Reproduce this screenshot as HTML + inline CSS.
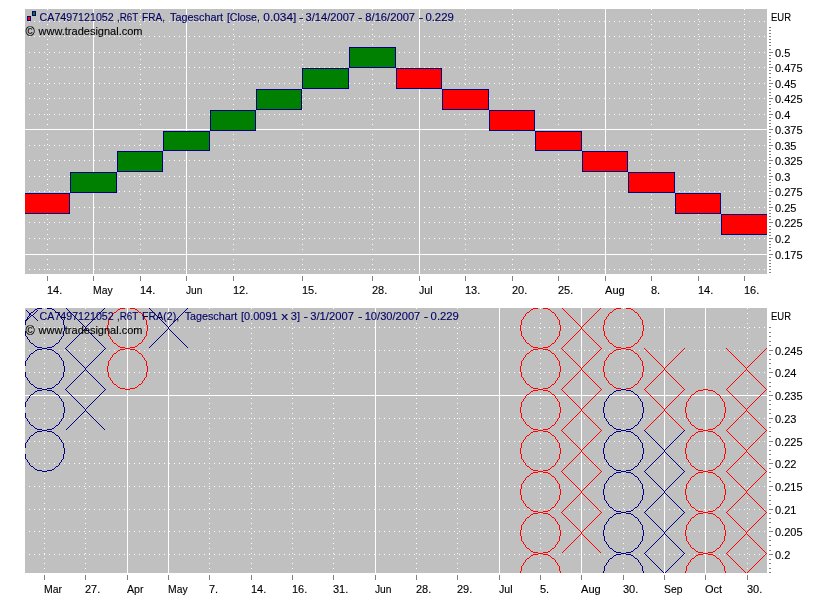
<!DOCTYPE html><html><head><meta charset="utf-8"><title>chart</title><style>
html,body{margin:0;padding:0;background:#fff;}svg{display:block;position:absolute;left:0;top:0;will-change:transform;}
text{font-family:"Liberation Sans",sans-serif;font-size:11px;stroke-width:0.12px;stroke:#000;}
</style></head><body>
<svg width="826" height="606" viewBox="0 0 826 606">
<rect width="826" height="606" fill="#fff"/>
<defs><clipPath id="c1"><rect x="25" y="9" width="742" height="265"/></clipPath>
<clipPath id="c2"><rect x="25" y="308" width="742" height="265"/></clipPath></defs>
<g shape-rendering="crispEdges">
<rect x="25" y="9" width="742" height="265" fill="#c0c0c0"/>
<line x1="29" y1="21.5" x2="767" y2="21.5" stroke="#fff" stroke-width="1" stroke-dasharray="1 4"/>
<line x1="29" y1="36.5" x2="767" y2="36.5" stroke="#fff" stroke-width="1" stroke-dasharray="1 4"/>
<line x1="29" y1="52.5" x2="767" y2="52.5" stroke="#fff" stroke-width="1" stroke-dasharray="1 4"/>
<line x1="29" y1="67.5" x2="767" y2="67.5" stroke="#fff" stroke-width="1" stroke-dasharray="1 4"/>
<line x1="29" y1="83.5" x2="767" y2="83.5" stroke="#fff" stroke-width="1" stroke-dasharray="1 4"/>
<line x1="29" y1="98.5" x2="767" y2="98.5" stroke="#fff" stroke-width="1" stroke-dasharray="1 4"/>
<line x1="29" y1="114.5" x2="767" y2="114.5" stroke="#fff" stroke-width="1" stroke-dasharray="1 4"/>
<rect x="25" y="129" width="742" height="1" fill="#fff"/>
<line x1="29" y1="145.5" x2="767" y2="145.5" stroke="#fff" stroke-width="1" stroke-dasharray="1 4"/>
<line x1="29" y1="160.5" x2="767" y2="160.5" stroke="#fff" stroke-width="1" stroke-dasharray="1 4"/>
<line x1="29" y1="176.5" x2="767" y2="176.5" stroke="#fff" stroke-width="1" stroke-dasharray="1 4"/>
<line x1="29" y1="191.5" x2="767" y2="191.5" stroke="#fff" stroke-width="1" stroke-dasharray="1 4"/>
<line x1="29" y1="207.5" x2="767" y2="207.5" stroke="#fff" stroke-width="1" stroke-dasharray="1 4"/>
<line x1="29" y1="222.5" x2="767" y2="222.5" stroke="#fff" stroke-width="1" stroke-dasharray="1 4"/>
<line x1="29" y1="238.5" x2="767" y2="238.5" stroke="#fff" stroke-width="1" stroke-dasharray="1 4"/>
<rect x="25" y="254" width="742" height="1" fill="#fff"/>
<line x1="29" y1="269.5" x2="767" y2="269.5" stroke="#fff" stroke-width="1" stroke-dasharray="1 4"/>
<line x1="47.5" y1="9" x2="47.5" y2="274" stroke="#fff" stroke-width="1" stroke-dasharray="1 4"/>
<line x1="140.5" y1="9" x2="140.5" y2="274" stroke="#fff" stroke-width="1" stroke-dasharray="1 4"/>
<line x1="233.5" y1="9" x2="233.5" y2="274" stroke="#fff" stroke-width="1" stroke-dasharray="1 4"/>
<line x1="302.5" y1="9" x2="302.5" y2="274" stroke="#fff" stroke-width="1" stroke-dasharray="1 4"/>
<line x1="372.5" y1="9" x2="372.5" y2="274" stroke="#fff" stroke-width="1" stroke-dasharray="1 4"/>
<line x1="465.5" y1="9" x2="465.5" y2="274" stroke="#fff" stroke-width="1" stroke-dasharray="1 4"/>
<line x1="512.5" y1="9" x2="512.5" y2="274" stroke="#fff" stroke-width="1" stroke-dasharray="1 4"/>
<line x1="558.5" y1="9" x2="558.5" y2="274" stroke="#fff" stroke-width="1" stroke-dasharray="1 4"/>
<line x1="651.5" y1="9" x2="651.5" y2="274" stroke="#fff" stroke-width="1" stroke-dasharray="1 4"/>
<line x1="698.5" y1="9" x2="698.5" y2="274" stroke="#fff" stroke-width="1" stroke-dasharray="1 4"/>
<line x1="744.5" y1="9" x2="744.5" y2="274" stroke="#fff" stroke-width="1" stroke-dasharray="1 4"/>
<rect x="93" y="9" width="1" height="265" fill="#fff"/>
<rect x="186" y="9" width="1" height="265" fill="#fff"/>
<rect x="419" y="9" width="1" height="265" fill="#fff"/>
<rect x="605" y="9" width="1" height="265" fill="#fff"/>
<g clip-path="url(#c1)">
<rect x="23.5" y="193.5" width="46" height="20" fill="#ff0000" stroke="#000080" stroke-width="1"/>
<rect x="70.5" y="172.5" width="46" height="20" fill="#008000" stroke="#000080" stroke-width="1"/>
<rect x="117.5" y="151.5" width="45" height="20" fill="#008000" stroke="#000080" stroke-width="1"/>
<rect x="163.5" y="131.5" width="46" height="19" fill="#008000" stroke="#000080" stroke-width="1"/>
<rect x="210.5" y="110.5" width="45" height="20" fill="#008000" stroke="#000080" stroke-width="1"/>
<rect x="256.5" y="89.5" width="45" height="20" fill="#008000" stroke="#000080" stroke-width="1"/>
<rect x="302.5" y="68.5" width="46" height="20" fill="#008000" stroke="#000080" stroke-width="1"/>
<rect x="349.5" y="47.5" width="46" height="20" fill="#008000" stroke="#000080" stroke-width="1"/>
<rect x="396.5" y="68.5" width="45" height="20" fill="#ff0000" stroke="#000080" stroke-width="1"/>
<rect x="442.5" y="89.5" width="46" height="20" fill="#ff0000" stroke="#000080" stroke-width="1"/>
<rect x="489.5" y="110.5" width="45" height="20" fill="#ff0000" stroke="#000080" stroke-width="1"/>
<rect x="535.5" y="131.5" width="46" height="19" fill="#ff0000" stroke="#000080" stroke-width="1"/>
<rect x="582.5" y="151.5" width="45" height="20" fill="#ff0000" stroke="#000080" stroke-width="1"/>
<rect x="628.5" y="172.5" width="46" height="20" fill="#ff0000" stroke="#000080" stroke-width="1"/>
<rect x="675.5" y="193.5" width="45" height="20" fill="#ff0000" stroke="#000080" stroke-width="1"/>
<rect x="721.5" y="214.5" width="47" height="20" fill="#ff0000" stroke="#000080" stroke-width="1"/>
</g>
<rect x="47" y="276" width="1" height="5" fill="#808080"/>
<rect x="93" y="276" width="1" height="5" fill="#808080"/>
<rect x="140" y="276" width="1" height="5" fill="#808080"/>
<rect x="186" y="276" width="1" height="5" fill="#808080"/>
<rect x="233" y="276" width="1" height="5" fill="#808080"/>
<rect x="302" y="276" width="1" height="5" fill="#808080"/>
<rect x="372" y="276" width="1" height="5" fill="#808080"/>
<rect x="419" y="276" width="1" height="5" fill="#808080"/>
<rect x="465" y="276" width="1" height="5" fill="#808080"/>
<rect x="512" y="276" width="1" height="5" fill="#808080"/>
<rect x="558" y="276" width="1" height="5" fill="#808080"/>
<rect x="605" y="276" width="1" height="5" fill="#808080"/>
<rect x="651" y="276" width="1" height="5" fill="#808080"/>
<rect x="698" y="276" width="1" height="5" fill="#808080"/>
<rect x="744" y="276" width="1" height="5" fill="#808080"/>
<rect x="769" y="27" width="2" height="1" fill="#808080"/>
<rect x="769" y="30" width="2" height="1" fill="#808080"/>
<rect x="769" y="33" width="2" height="1" fill="#808080"/>
<rect x="769" y="36" width="2" height="1" fill="#808080"/>
<rect x="769" y="39" width="2" height="1" fill="#808080"/>
<rect x="769" y="42" width="2" height="1" fill="#808080"/>
<rect x="769" y="45" width="2" height="1" fill="#808080"/>
<rect x="769" y="49" width="2" height="1" fill="#808080"/>
<rect x="769" y="52" width="2" height="1" fill="#808080"/>
<rect x="769" y="55" width="2" height="1" fill="#808080"/>
<rect x="769" y="58" width="2" height="1" fill="#808080"/>
<rect x="769" y="61" width="2" height="1" fill="#808080"/>
<rect x="769" y="64" width="2" height="1" fill="#808080"/>
<rect x="769" y="67" width="2" height="1" fill="#808080"/>
<rect x="769" y="70" width="2" height="1" fill="#808080"/>
<rect x="769" y="73" width="2" height="1" fill="#808080"/>
<rect x="769" y="77" width="2" height="1" fill="#808080"/>
<rect x="769" y="80" width="2" height="1" fill="#808080"/>
<rect x="769" y="83" width="2" height="1" fill="#808080"/>
<rect x="769" y="86" width="2" height="1" fill="#808080"/>
<rect x="769" y="89" width="2" height="1" fill="#808080"/>
<rect x="769" y="92" width="2" height="1" fill="#808080"/>
<rect x="769" y="95" width="2" height="1" fill="#808080"/>
<rect x="769" y="98" width="2" height="1" fill="#808080"/>
<rect x="769" y="101" width="2" height="1" fill="#808080"/>
<rect x="769" y="104" width="2" height="1" fill="#808080"/>
<rect x="769" y="108" width="2" height="1" fill="#808080"/>
<rect x="769" y="111" width="2" height="1" fill="#808080"/>
<rect x="769" y="114" width="2" height="1" fill="#808080"/>
<rect x="769" y="117" width="2" height="1" fill="#808080"/>
<rect x="769" y="120" width="2" height="1" fill="#808080"/>
<rect x="769" y="123" width="2" height="1" fill="#808080"/>
<rect x="769" y="126" width="2" height="1" fill="#808080"/>
<rect x="769" y="129" width="2" height="1" fill="#808080"/>
<rect x="769" y="132" width="2" height="1" fill="#808080"/>
<rect x="769" y="136" width="2" height="1" fill="#808080"/>
<rect x="769" y="139" width="2" height="1" fill="#808080"/>
<rect x="769" y="142" width="2" height="1" fill="#808080"/>
<rect x="769" y="145" width="2" height="1" fill="#808080"/>
<rect x="769" y="148" width="2" height="1" fill="#808080"/>
<rect x="769" y="151" width="2" height="1" fill="#808080"/>
<rect x="769" y="154" width="2" height="1" fill="#808080"/>
<rect x="769" y="157" width="2" height="1" fill="#808080"/>
<rect x="769" y="160" width="2" height="1" fill="#808080"/>
<rect x="769" y="163" width="2" height="1" fill="#808080"/>
<rect x="769" y="167" width="2" height="1" fill="#808080"/>
<rect x="769" y="170" width="2" height="1" fill="#808080"/>
<rect x="769" y="173" width="2" height="1" fill="#808080"/>
<rect x="769" y="176" width="2" height="1" fill="#808080"/>
<rect x="769" y="179" width="2" height="1" fill="#808080"/>
<rect x="769" y="182" width="2" height="1" fill="#808080"/>
<rect x="769" y="185" width="2" height="1" fill="#808080"/>
<rect x="769" y="188" width="2" height="1" fill="#808080"/>
<rect x="769" y="191" width="2" height="1" fill="#808080"/>
<rect x="769" y="195" width="2" height="1" fill="#808080"/>
<rect x="769" y="198" width="2" height="1" fill="#808080"/>
<rect x="769" y="201" width="2" height="1" fill="#808080"/>
<rect x="769" y="204" width="2" height="1" fill="#808080"/>
<rect x="769" y="207" width="2" height="1" fill="#808080"/>
<rect x="769" y="210" width="2" height="1" fill="#808080"/>
<rect x="769" y="213" width="2" height="1" fill="#808080"/>
<rect x="769" y="216" width="2" height="1" fill="#808080"/>
<rect x="769" y="219" width="2" height="1" fill="#808080"/>
<rect x="769" y="222" width="2" height="1" fill="#808080"/>
<rect x="769" y="226" width="2" height="1" fill="#808080"/>
<rect x="769" y="229" width="2" height="1" fill="#808080"/>
<rect x="769" y="232" width="2" height="1" fill="#808080"/>
<rect x="769" y="235" width="2" height="1" fill="#808080"/>
<rect x="769" y="238" width="2" height="1" fill="#808080"/>
<rect x="769" y="241" width="2" height="1" fill="#808080"/>
<rect x="769" y="244" width="2" height="1" fill="#808080"/>
<rect x="769" y="247" width="2" height="1" fill="#808080"/>
<rect x="769" y="250" width="2" height="1" fill="#808080"/>
<rect x="769" y="254" width="2" height="1" fill="#808080"/>
<rect x="769" y="257" width="2" height="1" fill="#808080"/>
<rect x="769" y="260" width="2" height="1" fill="#808080"/>
<rect x="769" y="263" width="2" height="1" fill="#808080"/>
<rect x="769" y="266" width="2" height="1" fill="#808080"/>
<rect x="769" y="269" width="2" height="1" fill="#808080"/>
<rect x="769" y="272" width="2" height="1" fill="#808080"/>
<rect x="769" y="52" width="4" height="1" fill="#808080"/>
<rect x="769" y="67" width="4" height="1" fill="#808080"/>
<rect x="769" y="83" width="4" height="1" fill="#808080"/>
<rect x="769" y="98" width="4" height="1" fill="#808080"/>
<rect x="769" y="114" width="4" height="1" fill="#808080"/>
<rect x="769" y="129" width="4" height="1" fill="#808080"/>
<rect x="769" y="145" width="4" height="1" fill="#808080"/>
<rect x="769" y="160" width="4" height="1" fill="#808080"/>
<rect x="769" y="176" width="4" height="1" fill="#808080"/>
<rect x="769" y="191" width="4" height="1" fill="#808080"/>
<rect x="769" y="207" width="4" height="1" fill="#808080"/>
<rect x="769" y="222" width="4" height="1" fill="#808080"/>
<rect x="769" y="238" width="4" height="1" fill="#808080"/>
<rect x="769" y="254" width="4" height="1" fill="#808080"/>
<rect x="32" y="11" width="4" height="5" fill="#000080"/>
<rect x="33" y="12" width="2" height="3" fill="#008000"/>
<rect x="27" y="16" width="4" height="5" fill="#000080"/>
<rect x="28" y="17" width="2" height="3" fill="#ff0000"/>
</g>
<text x="47" y="294">14.</text>
<text x="93" y="294" textLength="19.6" lengthAdjust="spacingAndGlyphs">May</text>
<text x="140" y="294">14.</text>
<text x="186" y="294" textLength="16.5" lengthAdjust="spacingAndGlyphs">Jun</text>
<text x="233" y="294">12.</text>
<text x="302" y="294">15.</text>
<text x="372" y="294">28.</text>
<text x="419" y="294" textLength="13.5" lengthAdjust="spacingAndGlyphs">Jul</text>
<text x="465" y="294">13.</text>
<text x="512" y="294">20.</text>
<text x="558" y="294">25.</text>
<text x="605" y="294" textLength="19.7" lengthAdjust="spacingAndGlyphs">Aug</text>
<text x="651" y="294">8.</text>
<text x="698" y="294">14.</text>
<text x="744" y="294">16.</text>
<text x="775" y="57">0.5</text>
<text x="775" y="72">0.475</text>
<text x="775" y="88">0.45</text>
<text x="775" y="103">0.425</text>
<text x="775" y="119">0.4</text>
<text x="775" y="134">0.375</text>
<text x="775" y="150">0.35</text>
<text x="775" y="165">0.325</text>
<text x="775" y="181">0.3</text>
<text x="775" y="196">0.275</text>
<text x="775" y="212">0.25</text>
<text x="775" y="227">0.225</text>
<text x="775" y="243">0.2</text>
<text x="775" y="259">0.175</text>
<text x="771" y="21" textLength="20" lengthAdjust="spacingAndGlyphs">EUR</text>
<text x="39.6" y="21" textLength="74.1" lengthAdjust="spacingAndGlyphs" fill="#000080" stroke="#000080">CA7497121052</text>
<text x="117.0" y="21" textLength="21.3" lengthAdjust="spacingAndGlyphs" fill="#000080" stroke="#000080">,R6T</text>
<text x="142.1" y="21" textLength="23" lengthAdjust="spacingAndGlyphs" fill="#000080" stroke="#000080">FRA,</text>
<text x="170.1" y="21" textLength="53" lengthAdjust="spacingAndGlyphs" fill="#000080" stroke="#000080">Tageschart</text>
<text x="226.9" y="21" textLength="33" lengthAdjust="spacingAndGlyphs" fill="#000080" stroke="#000080">[Close,</text>
<text x="263.3" y="21" textLength="33" lengthAdjust="spacingAndGlyphs" fill="#000080" stroke="#000080">0.034]</text>
<text x="298.9" y="21" textLength="4.5" lengthAdjust="spacingAndGlyphs" fill="#000080" stroke="#000080">-</text>
<text x="305.6" y="21" textLength="49.4" lengthAdjust="spacingAndGlyphs" fill="#000080" stroke="#000080">3/14/2007</text>
<text x="358.1" y="21" textLength="4.5" lengthAdjust="spacingAndGlyphs" fill="#000080" stroke="#000080">-</text>
<text x="365.3" y="21" textLength="49.8" lengthAdjust="spacingAndGlyphs" fill="#000080" stroke="#000080">8/16/2007</text>
<text x="418.8" y="21" textLength="4.5" lengthAdjust="spacingAndGlyphs" fill="#000080" stroke="#000080">-</text>
<text x="425.4" y="21" textLength="28.4" lengthAdjust="spacingAndGlyphs" fill="#000080" stroke="#000080">0.229</text>
<text x="25.6" y="36" style="font-size:12.6px">©</text>
<text x="38.5" y="35" textLength="104" lengthAdjust="spacingAndGlyphs">www.tradesignal.com</text>
<g shape-rendering="crispEdges">
<rect x="25" y="308" width="742" height="265" fill="#c0c0c0"/>
<line x1="29" y1="327.5" x2="767" y2="327.5" stroke="#fff" stroke-width="1" stroke-dasharray="1 4"/>
<line x1="29" y1="350.5" x2="767" y2="350.5" stroke="#fff" stroke-width="1" stroke-dasharray="1 4"/>
<line x1="29" y1="372.5" x2="767" y2="372.5" stroke="#fff" stroke-width="1" stroke-dasharray="1 4"/>
<rect x="25" y="395" width="742" height="1" fill="#fff"/>
<line x1="29" y1="418.5" x2="767" y2="418.5" stroke="#fff" stroke-width="1" stroke-dasharray="1 4"/>
<line x1="29" y1="441.5" x2="767" y2="441.5" stroke="#fff" stroke-width="1" stroke-dasharray="1 4"/>
<line x1="29" y1="463.5" x2="767" y2="463.5" stroke="#fff" stroke-width="1" stroke-dasharray="1 4"/>
<line x1="29" y1="486.5" x2="767" y2="486.5" stroke="#fff" stroke-width="1" stroke-dasharray="1 4"/>
<line x1="29" y1="509.5" x2="767" y2="509.5" stroke="#fff" stroke-width="1" stroke-dasharray="1 4"/>
<line x1="29" y1="531.5" x2="767" y2="531.5" stroke="#fff" stroke-width="1" stroke-dasharray="1 4"/>
<line x1="29" y1="554.5" x2="767" y2="554.5" stroke="#fff" stroke-width="1" stroke-dasharray="1 4"/>
<line x1="44.5" y1="308" x2="44.5" y2="573" stroke="#fff" stroke-width="1" stroke-dasharray="1 4"/>
<line x1="85.5" y1="308" x2="85.5" y2="573" stroke="#fff" stroke-width="1" stroke-dasharray="1 4"/>
<line x1="209.5" y1="308" x2="209.5" y2="573" stroke="#fff" stroke-width="1" stroke-dasharray="1 4"/>
<line x1="251.5" y1="308" x2="251.5" y2="573" stroke="#fff" stroke-width="1" stroke-dasharray="1 4"/>
<line x1="292.5" y1="308" x2="292.5" y2="573" stroke="#fff" stroke-width="1" stroke-dasharray="1 4"/>
<line x1="333.5" y1="308" x2="333.5" y2="573" stroke="#fff" stroke-width="1" stroke-dasharray="1 4"/>
<line x1="416.5" y1="308" x2="416.5" y2="573" stroke="#fff" stroke-width="1" stroke-dasharray="1 4"/>
<line x1="457.5" y1="308" x2="457.5" y2="573" stroke="#fff" stroke-width="1" stroke-dasharray="1 4"/>
<line x1="540.5" y1="308" x2="540.5" y2="573" stroke="#fff" stroke-width="1" stroke-dasharray="1 4"/>
<line x1="623.5" y1="308" x2="623.5" y2="573" stroke="#fff" stroke-width="1" stroke-dasharray="1 4"/>
<line x1="747.5" y1="308" x2="747.5" y2="573" stroke="#fff" stroke-width="1" stroke-dasharray="1 4"/>
<rect x="127" y="308" width="1" height="265" fill="#fff"/>
<rect x="168" y="308" width="1" height="265" fill="#fff"/>
<rect x="375" y="308" width="1" height="265" fill="#fff"/>
<rect x="499" y="308" width="1" height="265" fill="#fff"/>
<rect x="581" y="308" width="1" height="265" fill="#fff"/>
<rect x="664" y="308" width="1" height="265" fill="#fff"/>
<rect x="705" y="308" width="1" height="265" fill="#fff"/>
<g clip-path="url(#c2)">
<path fill="#ff0000" d="M120 308h5v1h-5zM130 308h5v1h-5zM533 308h5v1h-5zM543 308h5v1h-5zM562 308h1v1h-1zM600 308h1v1h-1zM616 308h5v1h-5zM626 308h5v1h-5zM118 309h2v1h-2zM135 309h2v1h-2zM531 309h2v1h-2zM548 309h2v1h-2zM563 309h1v1h-1zM599 309h1v1h-1zM614 309h2v1h-2zM631 309h2v1h-2zM117 310h1v1h-1zM137 310h1v1h-1zM530 310h1v1h-1zM550 310h1v1h-1zM564 310h1v1h-1zM598 310h1v1h-1zM613 310h1v1h-1zM633 310h1v1h-1zM116 311h1v1h-1zM138 311h1v1h-1zM529 311h1v1h-1zM551 311h1v1h-1zM565 311h1v1h-1zM597 311h1v1h-1zM612 311h1v1h-1zM634 311h1v1h-1zM114 312h2v1h-2zM139 312h2v1h-2zM527 312h2v1h-2zM552 312h2v1h-2zM566 312h1v1h-1zM596 312h1v1h-1zM610 312h2v1h-2zM635 312h2v1h-2zM113 313h1v1h-1zM141 313h1v1h-1zM526 313h1v1h-1zM554 313h1v1h-1zM567 313h1v1h-1zM595 313h1v1h-1zM609 313h1v1h-1zM637 313h1v1h-1zM112 314h1v1h-1zM142 314h1v1h-1zM525 314h1v1h-1zM555 314h1v1h-1zM568 314h1v1h-1zM594 314h1v1h-1zM608 314h1v1h-1zM638 314h1v1h-1zM112 315h1v1h-1zM142 315h1v1h-1zM525 315h1v1h-1zM555 315h1v1h-1zM569 315h1v1h-1zM593 315h1v1h-1zM608 315h1v1h-1zM638 315h1v1h-1zM111 316h1v1h-1zM143 316h1v1h-1zM524 316h1v1h-1zM556 316h1v1h-1zM570 316h1v1h-1zM592 316h1v1h-1zM607 316h1v1h-1zM639 316h1v1h-1zM110 317h1v1h-1zM144 317h1v1h-1zM523 317h1v1h-1zM557 317h1v1h-1zM571 317h1v1h-1zM591 317h1v1h-1zM606 317h1v1h-1zM640 317h1v1h-1zM110 318h1v1h-1zM144 318h1v1h-1zM523 318h1v1h-1zM557 318h1v1h-1zM572 318h1v1h-1zM590 318h1v1h-1zM606 318h1v1h-1zM640 318h1v1h-1zM109 319h1v1h-1zM145 319h1v1h-1zM522 319h1v1h-1zM558 319h1v1h-1zM573 319h1v1h-1zM589 319h1v1h-1zM605 319h1v1h-1zM641 319h1v1h-1zM108 320h1v1h-1zM146 320h1v1h-1zM521 320h1v1h-1zM559 320h1v1h-1zM574 320h1v1h-1zM588 320h1v1h-1zM604 320h1v1h-1zM642 320h1v1h-1zM108 321h1v1h-1zM146 321h1v1h-1zM521 321h1v1h-1zM559 321h1v1h-1zM575 321h1v1h-1zM587 321h1v1h-1zM604 321h1v1h-1zM642 321h1v1h-1zM108 322h1v1h-1zM146 322h1v1h-1zM521 322h1v1h-1zM559 322h1v1h-1zM576 322h1v1h-1zM586 322h1v1h-1zM604 322h1v1h-1zM642 322h1v1h-1zM108 323h1v1h-1zM146 323h1v1h-1zM521 323h1v1h-1zM559 323h1v1h-1zM577 323h1v1h-1zM585 323h1v1h-1zM604 323h1v1h-1zM642 323h1v1h-1zM108 324h1v1h-1zM146 324h1v1h-1zM521 324h1v1h-1zM559 324h1v1h-1zM578 324h1v1h-1zM584 324h1v1h-1zM604 324h1v1h-1zM642 324h1v1h-1zM107 325h1v1h-1zM147 325h1v1h-1zM520 325h1v1h-1zM560 325h1v1h-1zM579 325h1v1h-1zM583 325h1v1h-1zM603 325h1v1h-1zM643 325h1v1h-1zM107 326h1v1h-1zM147 326h1v1h-1zM520 326h1v1h-1zM560 326h1v1h-1zM580 326h1v1h-1zM582 326h1v1h-1zM603 326h1v1h-1zM643 326h1v1h-1zM107 327h1v1h-1zM147 327h1v1h-1zM520 327h1v1h-1zM560 327h1v1h-1zM581 327h1v1h-1zM603 327h1v1h-1zM643 327h1v1h-1zM107 328h1v1h-1zM147 328h1v1h-1zM520 328h1v1h-1zM560 328h1v1h-1zM581 328h1v1h-1zM603 328h1v1h-1zM643 328h1v1h-1zM107 329h1v1h-1zM147 329h1v1h-1zM520 329h1v1h-1zM560 329h1v1h-1zM580 329h1v1h-1zM582 329h1v1h-1zM603 329h1v1h-1zM643 329h1v1h-1zM107 330h1v1h-1zM147 330h1v1h-1zM520 330h1v1h-1zM560 330h1v1h-1zM579 330h1v1h-1zM583 330h1v1h-1zM603 330h1v1h-1zM643 330h1v1h-1zM108 331h1v1h-1zM146 331h1v1h-1zM521 331h1v1h-1zM559 331h1v1h-1zM578 331h1v1h-1zM584 331h1v1h-1zM604 331h1v1h-1zM642 331h1v1h-1zM108 332h1v1h-1zM146 332h1v1h-1zM521 332h1v1h-1zM559 332h1v1h-1zM577 332h1v1h-1zM585 332h1v1h-1zM604 332h1v1h-1zM642 332h1v1h-1zM108 333h1v1h-1zM146 333h1v1h-1zM521 333h1v1h-1zM559 333h1v1h-1zM576 333h1v1h-1zM586 333h1v1h-1zM604 333h1v1h-1zM642 333h1v1h-1zM108 334h1v1h-1zM146 334h1v1h-1zM521 334h1v1h-1zM559 334h1v1h-1zM575 334h1v1h-1zM587 334h1v1h-1zM604 334h1v1h-1zM642 334h1v1h-1zM108 335h1v1h-1zM146 335h1v1h-1zM521 335h1v1h-1zM559 335h1v1h-1zM574 335h1v1h-1zM588 335h1v1h-1zM604 335h1v1h-1zM642 335h1v1h-1zM109 336h1v1h-1zM145 336h1v1h-1zM522 336h1v1h-1zM558 336h1v1h-1zM573 336h1v1h-1zM589 336h1v1h-1zM605 336h1v1h-1zM641 336h1v1h-1zM110 337h1v1h-1zM144 337h1v1h-1zM523 337h1v1h-1zM557 337h1v1h-1zM572 337h1v1h-1zM590 337h1v1h-1zM606 337h1v1h-1zM640 337h1v1h-1zM110 338h1v1h-1zM144 338h1v1h-1zM523 338h1v1h-1zM557 338h1v1h-1zM571 338h1v1h-1zM591 338h1v1h-1zM606 338h1v1h-1zM640 338h1v1h-1zM111 339h1v1h-1zM143 339h1v1h-1zM524 339h1v1h-1zM556 339h1v1h-1zM570 339h1v1h-1zM592 339h1v1h-1zM607 339h1v1h-1zM639 339h1v1h-1zM112 340h1v1h-1zM142 340h1v1h-1zM525 340h1v1h-1zM555 340h1v1h-1zM569 340h1v1h-1zM593 340h1v1h-1zM608 340h1v1h-1zM638 340h1v1h-1zM112 341h1v1h-1zM142 341h1v1h-1zM525 341h1v1h-1zM555 341h1v1h-1zM568 341h1v1h-1zM594 341h1v1h-1zM608 341h1v1h-1zM638 341h1v1h-1zM113 342h1v1h-1zM141 342h1v1h-1zM526 342h1v1h-1zM554 342h1v1h-1zM567 342h1v1h-1zM595 342h1v1h-1zM609 342h1v1h-1zM637 342h1v1h-1zM114 343h2v1h-2zM139 343h2v1h-2zM527 343h2v1h-2zM552 343h2v1h-2zM566 343h1v1h-1zM596 343h1v1h-1zM610 343h2v1h-2zM635 343h2v1h-2zM116 344h1v1h-1zM138 344h1v1h-1zM529 344h1v1h-1zM551 344h1v1h-1zM565 344h1v1h-1zM597 344h1v1h-1zM612 344h1v1h-1zM634 344h1v1h-1zM117 345h1v1h-1zM137 345h1v1h-1zM530 345h1v1h-1zM550 345h1v1h-1zM564 345h1v1h-1zM598 345h1v1h-1zM613 345h1v1h-1zM633 345h1v1h-1zM118 346h2v1h-2zM135 346h2v1h-2zM531 346h2v1h-2zM548 346h2v1h-2zM563 346h1v1h-1zM599 346h1v1h-1zM614 346h2v1h-2zM631 346h2v1h-2zM120 347h5v1h-5zM130 347h5v1h-5zM533 347h5v1h-5zM543 347h5v1h-5zM562 347h1v1h-1zM600 347h1v1h-1zM616 347h5v1h-5zM626 347h5v1h-5zM125 348h5v1h-5zM538 348h5v1h-5zM561 348h1v1h-1zM601 348h1v1h-1zM621 348h5v1h-5zM644 348h1v1h-1zM684 348h1v1h-1zM726 348h1v1h-1zM766 348h1v1h-1zM120 349h5v1h-5zM130 349h5v1h-5zM533 349h5v1h-5zM543 349h5v1h-5zM562 349h1v1h-1zM600 349h1v1h-1zM616 349h5v1h-5zM626 349h5v1h-5zM645 349h1v1h-1zM683 349h1v1h-1zM727 349h1v1h-1zM765 349h1v1h-1zM118 350h2v1h-2zM135 350h2v1h-2zM531 350h2v1h-2zM548 350h2v1h-2zM563 350h1v1h-1zM599 350h1v1h-1zM614 350h2v1h-2zM631 350h2v1h-2zM646 350h1v1h-1zM682 350h1v1h-1zM728 350h1v1h-1zM764 350h1v1h-1zM117 351h1v1h-1zM137 351h1v1h-1zM530 351h1v1h-1zM550 351h1v1h-1zM564 351h1v1h-1zM598 351h1v1h-1zM613 351h1v1h-1zM633 351h1v1h-1zM647 351h1v1h-1zM681 351h1v1h-1zM729 351h1v1h-1zM763 351h1v1h-1zM116 352h1v1h-1zM138 352h1v1h-1zM529 352h1v1h-1zM551 352h1v1h-1zM565 352h1v1h-1zM597 352h1v1h-1zM612 352h1v1h-1zM634 352h1v1h-1zM648 352h1v1h-1zM680 352h1v1h-1zM730 352h1v1h-1zM762 352h1v1h-1zM114 353h2v1h-2zM139 353h2v1h-2zM527 353h2v1h-2zM552 353h2v1h-2zM566 353h1v1h-1zM596 353h1v1h-1zM610 353h2v1h-2zM635 353h2v1h-2zM649 353h1v1h-1zM679 353h1v1h-1zM731 353h1v1h-1zM761 353h1v1h-1zM113 354h1v1h-1zM141 354h1v1h-1zM526 354h1v1h-1zM554 354h1v1h-1zM567 354h1v1h-1zM595 354h1v1h-1zM609 354h1v1h-1zM637 354h1v1h-1zM650 354h1v1h-1zM678 354h1v1h-1zM732 354h1v1h-1zM760 354h1v1h-1zM112 355h1v1h-1zM142 355h1v1h-1zM525 355h1v1h-1zM555 355h1v1h-1zM568 355h1v1h-1zM594 355h1v1h-1zM608 355h1v1h-1zM638 355h1v1h-1zM651 355h1v1h-1zM677 355h1v1h-1zM733 355h1v1h-1zM759 355h1v1h-1zM112 356h1v1h-1zM142 356h1v1h-1zM525 356h1v1h-1zM555 356h1v1h-1zM569 356h1v1h-1zM593 356h1v1h-1zM608 356h1v1h-1zM638 356h1v1h-1zM652 356h1v1h-1zM676 356h1v1h-1zM734 356h1v1h-1zM758 356h1v1h-1zM111 357h1v1h-1zM143 357h1v1h-1zM524 357h1v1h-1zM556 357h1v1h-1zM570 357h1v1h-1zM592 357h1v1h-1zM607 357h1v1h-1zM639 357h1v1h-1zM653 357h1v1h-1zM675 357h1v1h-1zM735 357h1v1h-1zM757 357h1v1h-1zM110 358h1v1h-1zM144 358h1v1h-1zM523 358h1v1h-1zM557 358h1v1h-1zM571 358h1v1h-1zM591 358h1v1h-1zM606 358h1v1h-1zM640 358h1v1h-1zM654 358h1v1h-1zM674 358h1v1h-1zM736 358h1v1h-1zM756 358h1v1h-1zM110 359h1v1h-1zM144 359h1v1h-1zM523 359h1v1h-1zM557 359h1v1h-1zM572 359h1v1h-1zM590 359h1v1h-1zM606 359h1v1h-1zM640 359h1v1h-1zM655 359h1v1h-1zM673 359h1v1h-1zM737 359h1v1h-1zM755 359h1v1h-1zM109 360h1v1h-1zM145 360h1v1h-1zM522 360h1v1h-1zM558 360h1v1h-1zM573 360h1v1h-1zM589 360h1v1h-1zM605 360h1v1h-1zM641 360h1v1h-1zM656 360h1v1h-1zM672 360h1v1h-1zM738 360h1v1h-1zM754 360h1v1h-1zM108 361h1v1h-1zM146 361h1v1h-1zM521 361h1v1h-1zM559 361h1v1h-1zM574 361h1v1h-1zM588 361h1v1h-1zM604 361h1v1h-1zM642 361h1v1h-1zM657 361h1v1h-1zM671 361h1v1h-1zM739 361h1v1h-1zM753 361h1v1h-1zM108 362h1v1h-1zM146 362h1v1h-1zM521 362h1v1h-1zM559 362h1v1h-1zM575 362h1v1h-1zM587 362h1v1h-1zM604 362h1v1h-1zM642 362h1v1h-1zM658 362h1v1h-1zM670 362h1v1h-1zM740 362h1v1h-1zM752 362h1v1h-1zM108 363h1v1h-1zM146 363h1v1h-1zM521 363h1v1h-1zM559 363h1v1h-1zM576 363h1v1h-1zM586 363h1v1h-1zM604 363h1v1h-1zM642 363h1v1h-1zM659 363h1v1h-1zM669 363h1v1h-1zM741 363h1v1h-1zM751 363h1v1h-1zM108 364h1v1h-1zM146 364h1v1h-1zM521 364h1v1h-1zM559 364h1v1h-1zM577 364h1v1h-1zM585 364h1v1h-1zM604 364h1v1h-1zM642 364h1v1h-1zM660 364h1v1h-1zM668 364h1v1h-1zM742 364h1v1h-1zM750 364h1v1h-1zM108 365h1v1h-1zM146 365h1v1h-1zM521 365h1v1h-1zM559 365h1v1h-1zM578 365h1v1h-1zM584 365h1v1h-1zM604 365h1v1h-1zM642 365h1v1h-1zM661 365h1v1h-1zM667 365h1v1h-1zM743 365h1v1h-1zM749 365h1v1h-1zM107 366h1v1h-1zM147 366h1v1h-1zM520 366h1v1h-1zM560 366h1v1h-1zM579 366h1v1h-1zM583 366h1v1h-1zM603 366h1v1h-1zM643 366h1v1h-1zM662 366h1v1h-1zM666 366h1v1h-1zM744 366h1v1h-1zM748 366h1v1h-1zM107 367h1v1h-1zM147 367h1v1h-1zM520 367h1v1h-1zM560 367h1v1h-1zM580 367h1v1h-1zM582 367h1v1h-1zM603 367h1v1h-1zM643 367h1v1h-1zM663 367h1v1h-1zM665 367h1v1h-1zM745 367h1v1h-1zM747 367h1v1h-1zM107 368h1v1h-1zM147 368h1v1h-1zM520 368h1v1h-1zM560 368h1v1h-1zM581 368h1v1h-1zM603 368h1v1h-1zM643 368h1v1h-1zM664 368h1v1h-1zM746 368h1v1h-1zM107 369h1v1h-1zM147 369h1v1h-1zM520 369h1v1h-1zM560 369h1v1h-1zM581 369h1v1h-1zM603 369h1v1h-1zM643 369h1v1h-1zM664 369h1v1h-1zM746 369h1v1h-1zM107 370h1v1h-1zM147 370h1v1h-1zM520 370h1v1h-1zM560 370h1v1h-1zM580 370h1v1h-1zM582 370h1v1h-1zM603 370h1v1h-1zM643 370h1v1h-1zM663 370h1v1h-1zM665 370h1v1h-1zM745 370h1v1h-1zM747 370h1v1h-1zM107 371h1v1h-1zM147 371h1v1h-1zM520 371h1v1h-1zM560 371h1v1h-1zM579 371h1v1h-1zM583 371h1v1h-1zM603 371h1v1h-1zM643 371h1v1h-1zM662 371h1v1h-1zM666 371h1v1h-1zM744 371h1v1h-1zM748 371h1v1h-1zM108 372h1v1h-1zM146 372h1v1h-1zM521 372h1v1h-1zM559 372h1v1h-1zM578 372h1v1h-1zM584 372h1v1h-1zM604 372h1v1h-1zM642 372h1v1h-1zM661 372h1v1h-1zM667 372h1v1h-1zM743 372h1v1h-1zM749 372h1v1h-1zM108 373h1v1h-1zM146 373h1v1h-1zM521 373h1v1h-1zM559 373h1v1h-1zM577 373h1v1h-1zM585 373h1v1h-1zM604 373h1v1h-1zM642 373h1v1h-1zM660 373h1v1h-1zM668 373h1v1h-1zM742 373h1v1h-1zM750 373h1v1h-1zM108 374h1v1h-1zM146 374h1v1h-1zM521 374h1v1h-1zM559 374h1v1h-1zM576 374h1v1h-1zM586 374h1v1h-1zM604 374h1v1h-1zM642 374h1v1h-1zM659 374h1v1h-1zM669 374h1v1h-1zM741 374h1v1h-1zM751 374h1v1h-1zM108 375h1v1h-1zM146 375h1v1h-1zM521 375h1v1h-1zM559 375h1v1h-1zM575 375h1v1h-1zM587 375h1v1h-1zM604 375h1v1h-1zM642 375h1v1h-1zM658 375h1v1h-1zM670 375h1v1h-1zM740 375h1v1h-1zM752 375h1v1h-1zM108 376h1v1h-1zM146 376h1v1h-1zM521 376h1v1h-1zM559 376h1v1h-1zM574 376h1v1h-1zM588 376h1v1h-1zM604 376h1v1h-1zM642 376h1v1h-1zM657 376h1v1h-1zM671 376h1v1h-1zM739 376h1v1h-1zM753 376h1v1h-1zM109 377h1v1h-1zM145 377h1v1h-1zM522 377h1v1h-1zM558 377h1v1h-1zM573 377h1v1h-1zM589 377h1v1h-1zM605 377h1v1h-1zM641 377h1v1h-1zM656 377h1v1h-1zM672 377h1v1h-1zM738 377h1v1h-1zM754 377h1v1h-1zM110 378h1v1h-1zM144 378h1v1h-1zM523 378h1v1h-1zM557 378h1v1h-1zM572 378h1v1h-1zM590 378h1v1h-1zM606 378h1v1h-1zM640 378h1v1h-1zM655 378h1v1h-1zM673 378h1v1h-1zM737 378h1v1h-1zM755 378h1v1h-1zM110 379h1v1h-1zM144 379h1v1h-1zM523 379h1v1h-1zM557 379h1v1h-1zM571 379h1v1h-1zM591 379h1v1h-1zM606 379h1v1h-1zM640 379h1v1h-1zM654 379h1v1h-1zM674 379h1v1h-1zM736 379h1v1h-1zM756 379h1v1h-1zM111 380h1v1h-1zM143 380h1v1h-1zM524 380h1v1h-1zM556 380h1v1h-1zM570 380h1v1h-1zM592 380h1v1h-1zM607 380h1v1h-1zM639 380h1v1h-1zM653 380h1v1h-1zM675 380h1v1h-1zM735 380h1v1h-1zM757 380h1v1h-1zM112 381h1v1h-1zM142 381h1v1h-1zM525 381h1v1h-1zM555 381h1v1h-1zM569 381h1v1h-1zM593 381h1v1h-1zM608 381h1v1h-1zM638 381h1v1h-1zM652 381h1v1h-1zM676 381h1v1h-1zM734 381h1v1h-1zM758 381h1v1h-1zM112 382h1v1h-1zM142 382h1v1h-1zM525 382h1v1h-1zM555 382h1v1h-1zM568 382h1v1h-1zM594 382h1v1h-1zM608 382h1v1h-1zM638 382h1v1h-1zM651 382h1v1h-1zM677 382h1v1h-1zM733 382h1v1h-1zM759 382h1v1h-1zM113 383h1v1h-1zM141 383h1v1h-1zM526 383h1v1h-1zM554 383h1v1h-1zM567 383h1v1h-1zM595 383h1v1h-1zM609 383h1v1h-1zM637 383h1v1h-1zM650 383h1v1h-1zM678 383h1v1h-1zM732 383h1v1h-1zM760 383h1v1h-1zM114 384h2v1h-2zM139 384h2v1h-2zM527 384h2v1h-2zM552 384h2v1h-2zM566 384h1v1h-1zM596 384h1v1h-1zM610 384h2v1h-2zM635 384h2v1h-2zM649 384h1v1h-1zM679 384h1v1h-1zM731 384h1v1h-1zM761 384h1v1h-1zM116 385h1v1h-1zM138 385h1v1h-1zM529 385h1v1h-1zM551 385h1v1h-1zM565 385h1v1h-1zM597 385h1v1h-1zM612 385h1v1h-1zM634 385h1v1h-1zM648 385h1v1h-1zM680 385h1v1h-1zM730 385h1v1h-1zM762 385h1v1h-1zM117 386h1v1h-1zM137 386h1v1h-1zM530 386h1v1h-1zM550 386h1v1h-1zM564 386h1v1h-1zM598 386h1v1h-1zM613 386h1v1h-1zM633 386h1v1h-1zM647 386h1v1h-1zM681 386h1v1h-1zM729 386h1v1h-1zM763 386h1v1h-1zM118 387h2v1h-2zM135 387h2v1h-2zM531 387h2v1h-2zM548 387h2v1h-2zM563 387h1v1h-1zM599 387h1v1h-1zM614 387h2v1h-2zM631 387h2v1h-2zM646 387h1v1h-1zM682 387h1v1h-1zM728 387h1v1h-1zM764 387h1v1h-1zM120 388h5v1h-5zM130 388h5v1h-5zM533 388h5v1h-5zM543 388h5v1h-5zM562 388h1v1h-1zM600 388h1v1h-1zM616 388h5v1h-5zM626 388h5v1h-5zM645 388h1v1h-1zM683 388h1v1h-1zM727 388h1v1h-1zM765 388h1v1h-1zM125 389h5v1h-5zM538 389h5v1h-5zM561 389h1v1h-1zM601 389h1v1h-1zM644 389h1v1h-1zM684 389h1v1h-1zM703 389h5v1h-5zM726 389h1v1h-1zM766 389h1v1h-1zM533 390h5v1h-5zM543 390h5v1h-5zM562 390h1v1h-1zM600 390h1v1h-1zM645 390h1v1h-1zM683 390h1v1h-1zM698 390h5v1h-5zM708 390h5v1h-5zM727 390h1v1h-1zM765 390h1v1h-1zM531 391h2v1h-2zM548 391h2v1h-2zM563 391h1v1h-1zM599 391h1v1h-1zM646 391h1v1h-1zM682 391h1v1h-1zM696 391h2v1h-2zM713 391h2v1h-2zM728 391h1v1h-1zM764 391h1v1h-1zM530 392h1v1h-1zM550 392h1v1h-1zM564 392h1v1h-1zM598 392h1v1h-1zM647 392h1v1h-1zM681 392h1v1h-1zM695 392h1v1h-1zM715 392h1v1h-1zM729 392h1v1h-1zM763 392h1v1h-1zM529 393h1v1h-1zM551 393h1v1h-1zM565 393h1v1h-1zM597 393h1v1h-1zM648 393h1v1h-1zM680 393h1v1h-1zM694 393h1v1h-1zM716 393h1v1h-1zM730 393h1v1h-1zM762 393h1v1h-1zM527 394h2v1h-2zM552 394h2v1h-2zM566 394h1v1h-1zM596 394h1v1h-1zM649 394h1v1h-1zM679 394h1v1h-1zM692 394h2v1h-2zM717 394h2v1h-2zM731 394h1v1h-1zM761 394h1v1h-1zM526 395h1v1h-1zM554 395h1v1h-1zM567 395h1v1h-1zM595 395h1v1h-1zM650 395h1v1h-1zM678 395h1v1h-1zM691 395h1v1h-1zM719 395h1v1h-1zM732 395h1v1h-1zM760 395h1v1h-1zM525 396h1v1h-1zM555 396h1v1h-1zM568 396h1v1h-1zM594 396h1v1h-1zM651 396h1v1h-1zM677 396h1v1h-1zM690 396h1v1h-1zM720 396h1v1h-1zM733 396h1v1h-1zM759 396h1v1h-1zM525 397h1v1h-1zM555 397h1v1h-1zM569 397h1v1h-1zM593 397h1v1h-1zM652 397h1v1h-1zM676 397h1v1h-1zM690 397h1v1h-1zM720 397h1v1h-1zM734 397h1v1h-1zM758 397h1v1h-1zM524 398h1v1h-1zM556 398h1v1h-1zM570 398h1v1h-1zM592 398h1v1h-1zM653 398h1v1h-1zM675 398h1v1h-1zM689 398h1v1h-1zM721 398h1v1h-1zM735 398h1v1h-1zM757 398h1v1h-1zM523 399h1v1h-1zM557 399h1v1h-1zM571 399h1v1h-1zM591 399h1v1h-1zM654 399h1v1h-1zM674 399h1v1h-1zM688 399h1v1h-1zM722 399h1v1h-1zM736 399h1v1h-1zM756 399h1v1h-1zM523 400h1v1h-1zM557 400h1v1h-1zM572 400h1v1h-1zM590 400h1v1h-1zM655 400h1v1h-1zM673 400h1v1h-1zM688 400h1v1h-1zM722 400h1v1h-1zM737 400h1v1h-1zM755 400h1v1h-1zM522 401h1v1h-1zM558 401h1v1h-1zM573 401h1v1h-1zM589 401h1v1h-1zM656 401h1v1h-1zM672 401h1v1h-1zM687 401h1v1h-1zM723 401h1v1h-1zM738 401h1v1h-1zM754 401h1v1h-1zM521 402h1v1h-1zM559 402h1v1h-1zM574 402h1v1h-1zM588 402h1v1h-1zM657 402h1v1h-1zM671 402h1v1h-1zM686 402h1v1h-1zM724 402h1v1h-1zM739 402h1v1h-1zM753 402h1v1h-1zM521 403h1v1h-1zM559 403h1v1h-1zM575 403h1v1h-1zM587 403h1v1h-1zM658 403h1v1h-1zM670 403h1v1h-1zM686 403h1v1h-1zM724 403h1v1h-1zM740 403h1v1h-1zM752 403h1v1h-1zM521 404h1v1h-1zM559 404h1v1h-1zM576 404h1v1h-1zM586 404h1v1h-1zM659 404h1v1h-1zM669 404h1v1h-1zM686 404h1v1h-1zM724 404h1v1h-1zM741 404h1v1h-1zM751 404h1v1h-1zM521 405h1v1h-1zM559 405h1v1h-1zM577 405h1v1h-1zM585 405h1v1h-1zM660 405h1v1h-1zM668 405h1v1h-1zM686 405h1v1h-1zM724 405h1v1h-1zM742 405h1v1h-1zM750 405h1v1h-1zM521 406h1v1h-1zM559 406h1v1h-1zM578 406h1v1h-1zM584 406h1v1h-1zM661 406h1v1h-1zM667 406h1v1h-1zM686 406h1v1h-1zM724 406h1v1h-1zM743 406h1v1h-1zM749 406h1v1h-1zM520 407h1v1h-1zM560 407h1v1h-1zM579 407h1v1h-1zM583 407h1v1h-1zM662 407h1v1h-1zM666 407h1v1h-1zM685 407h1v1h-1zM725 407h1v1h-1zM744 407h1v1h-1zM748 407h1v1h-1zM520 408h1v1h-1zM560 408h1v1h-1zM580 408h1v1h-1zM582 408h1v1h-1zM663 408h1v1h-1zM665 408h1v1h-1zM685 408h1v1h-1zM725 408h1v1h-1zM745 408h1v1h-1zM747 408h1v1h-1zM520 409h1v1h-1zM560 409h1v1h-1zM581 409h1v1h-1zM664 409h1v1h-1zM685 409h1v1h-1zM725 409h1v1h-1zM746 409h1v1h-1zM520 410h1v1h-1zM560 410h1v1h-1zM581 410h1v1h-1zM664 410h1v1h-1zM685 410h1v1h-1zM725 410h1v1h-1zM746 410h1v1h-1zM520 411h1v1h-1zM560 411h1v1h-1zM580 411h1v1h-1zM582 411h1v1h-1zM663 411h1v1h-1zM665 411h1v1h-1zM685 411h1v1h-1zM725 411h1v1h-1zM745 411h1v1h-1zM747 411h1v1h-1zM520 412h1v1h-1zM560 412h1v1h-1zM579 412h1v1h-1zM583 412h1v1h-1zM662 412h1v1h-1zM666 412h1v1h-1zM685 412h1v1h-1zM725 412h1v1h-1zM744 412h1v1h-1zM748 412h1v1h-1zM521 413h1v1h-1zM559 413h1v1h-1zM578 413h1v1h-1zM584 413h1v1h-1zM661 413h1v1h-1zM667 413h1v1h-1zM686 413h1v1h-1zM724 413h1v1h-1zM743 413h1v1h-1zM749 413h1v1h-1zM521 414h1v1h-1zM559 414h1v1h-1zM577 414h1v1h-1zM585 414h1v1h-1zM660 414h1v1h-1zM668 414h1v1h-1zM686 414h1v1h-1zM724 414h1v1h-1zM742 414h1v1h-1zM750 414h1v1h-1zM521 415h1v1h-1zM559 415h1v1h-1zM576 415h1v1h-1zM586 415h1v1h-1zM659 415h1v1h-1zM669 415h1v1h-1zM686 415h1v1h-1zM724 415h1v1h-1zM741 415h1v1h-1zM751 415h1v1h-1zM521 416h1v1h-1zM559 416h1v1h-1zM575 416h1v1h-1zM587 416h1v1h-1zM658 416h1v1h-1zM670 416h1v1h-1zM686 416h1v1h-1zM724 416h1v1h-1zM740 416h1v1h-1zM752 416h1v1h-1zM521 417h1v1h-1zM559 417h1v1h-1zM574 417h1v1h-1zM588 417h1v1h-1zM657 417h1v1h-1zM671 417h1v1h-1zM686 417h1v1h-1zM724 417h1v1h-1zM739 417h1v1h-1zM753 417h1v1h-1zM522 418h1v1h-1zM558 418h1v1h-1zM573 418h1v1h-1zM589 418h1v1h-1zM656 418h1v1h-1zM672 418h1v1h-1zM687 418h1v1h-1zM723 418h1v1h-1zM738 418h1v1h-1zM754 418h1v1h-1zM523 419h1v1h-1zM557 419h1v1h-1zM572 419h1v1h-1zM590 419h1v1h-1zM655 419h1v1h-1zM673 419h1v1h-1zM688 419h1v1h-1zM722 419h1v1h-1zM737 419h1v1h-1zM755 419h1v1h-1zM523 420h1v1h-1zM557 420h1v1h-1zM571 420h1v1h-1zM591 420h1v1h-1zM654 420h1v1h-1zM674 420h1v1h-1zM688 420h1v1h-1zM722 420h1v1h-1zM736 420h1v1h-1zM756 420h1v1h-1zM524 421h1v1h-1zM556 421h1v1h-1zM570 421h1v1h-1zM592 421h1v1h-1zM653 421h1v1h-1zM675 421h1v1h-1zM689 421h1v1h-1zM721 421h1v1h-1zM735 421h1v1h-1zM757 421h1v1h-1zM525 422h1v1h-1zM555 422h1v1h-1zM569 422h1v1h-1zM593 422h1v1h-1zM652 422h1v1h-1zM676 422h1v1h-1zM690 422h1v1h-1zM720 422h1v1h-1zM734 422h1v1h-1zM758 422h1v1h-1zM525 423h1v1h-1zM555 423h1v1h-1zM568 423h1v1h-1zM594 423h1v1h-1zM651 423h1v1h-1zM677 423h1v1h-1zM690 423h1v1h-1zM720 423h1v1h-1zM733 423h1v1h-1zM759 423h1v1h-1zM526 424h1v1h-1zM554 424h1v1h-1zM567 424h1v1h-1zM595 424h1v1h-1zM650 424h1v1h-1zM678 424h1v1h-1zM691 424h1v1h-1zM719 424h1v1h-1zM732 424h1v1h-1zM760 424h1v1h-1zM527 425h2v1h-2zM552 425h2v1h-2zM566 425h1v1h-1zM596 425h1v1h-1zM649 425h1v1h-1zM679 425h1v1h-1zM692 425h2v1h-2zM717 425h2v1h-2zM731 425h1v1h-1zM761 425h1v1h-1zM529 426h1v1h-1zM551 426h1v1h-1zM565 426h1v1h-1zM597 426h1v1h-1zM648 426h1v1h-1zM680 426h1v1h-1zM694 426h1v1h-1zM716 426h1v1h-1zM730 426h1v1h-1zM762 426h1v1h-1zM530 427h1v1h-1zM550 427h1v1h-1zM564 427h1v1h-1zM598 427h1v1h-1zM647 427h1v1h-1zM681 427h1v1h-1zM695 427h1v1h-1zM715 427h1v1h-1zM729 427h1v1h-1zM763 427h1v1h-1zM531 428h2v1h-2zM548 428h2v1h-2zM563 428h1v1h-1zM599 428h1v1h-1zM646 428h1v1h-1zM682 428h1v1h-1zM696 428h2v1h-2zM713 428h2v1h-2zM728 428h1v1h-1zM764 428h1v1h-1zM533 429h5v1h-5zM543 429h5v1h-5zM562 429h1v1h-1zM600 429h1v1h-1zM645 429h1v1h-1zM683 429h1v1h-1zM698 429h5v1h-5zM708 429h5v1h-5zM727 429h1v1h-1zM765 429h1v1h-1zM538 430h5v1h-5zM561 430h1v1h-1zM601 430h1v1h-1zM703 430h5v1h-5zM726 430h1v1h-1zM766 430h1v1h-1zM533 431h5v1h-5zM543 431h5v1h-5zM562 431h1v1h-1zM600 431h1v1h-1zM698 431h5v1h-5zM708 431h5v1h-5zM727 431h1v1h-1zM765 431h1v1h-1zM531 432h2v1h-2zM548 432h2v1h-2zM563 432h1v1h-1zM599 432h1v1h-1zM696 432h2v1h-2zM713 432h2v1h-2zM728 432h1v1h-1zM764 432h1v1h-1zM530 433h1v1h-1zM550 433h1v1h-1zM564 433h1v1h-1zM598 433h1v1h-1zM695 433h1v1h-1zM715 433h1v1h-1zM729 433h1v1h-1zM763 433h1v1h-1zM529 434h1v1h-1zM551 434h1v1h-1zM565 434h1v1h-1zM597 434h1v1h-1zM694 434h1v1h-1zM716 434h1v1h-1zM730 434h1v1h-1zM762 434h1v1h-1zM527 435h2v1h-2zM552 435h2v1h-2zM566 435h1v1h-1zM596 435h1v1h-1zM692 435h2v1h-2zM717 435h2v1h-2zM731 435h1v1h-1zM761 435h1v1h-1zM526 436h1v1h-1zM554 436h1v1h-1zM567 436h1v1h-1zM595 436h1v1h-1zM691 436h1v1h-1zM719 436h1v1h-1zM732 436h1v1h-1zM760 436h1v1h-1zM525 437h1v1h-1zM555 437h1v1h-1zM568 437h1v1h-1zM594 437h1v1h-1zM690 437h1v1h-1zM720 437h1v1h-1zM733 437h1v1h-1zM759 437h1v1h-1zM525 438h1v1h-1zM555 438h1v1h-1zM569 438h1v1h-1zM593 438h1v1h-1zM690 438h1v1h-1zM720 438h1v1h-1zM734 438h1v1h-1zM758 438h1v1h-1zM524 439h1v1h-1zM556 439h1v1h-1zM570 439h1v1h-1zM592 439h1v1h-1zM689 439h1v1h-1zM721 439h1v1h-1zM735 439h1v1h-1zM757 439h1v1h-1zM523 440h1v1h-1zM557 440h1v1h-1zM571 440h1v1h-1zM591 440h1v1h-1zM688 440h1v1h-1zM722 440h1v1h-1zM736 440h1v1h-1zM756 440h1v1h-1zM523 441h1v1h-1zM557 441h1v1h-1zM572 441h1v1h-1zM590 441h1v1h-1zM688 441h1v1h-1zM722 441h1v1h-1zM737 441h1v1h-1zM755 441h1v1h-1zM522 442h1v1h-1zM558 442h1v1h-1zM573 442h1v1h-1zM589 442h1v1h-1zM687 442h1v1h-1zM723 442h1v1h-1zM738 442h1v1h-1zM754 442h1v1h-1zM521 443h1v1h-1zM559 443h1v1h-1zM574 443h1v1h-1zM588 443h1v1h-1zM686 443h1v1h-1zM724 443h1v1h-1zM739 443h1v1h-1zM753 443h1v1h-1zM521 444h1v1h-1zM559 444h1v1h-1zM575 444h1v1h-1zM587 444h1v1h-1zM686 444h1v1h-1zM724 444h1v1h-1zM740 444h1v1h-1zM752 444h1v1h-1zM521 445h1v1h-1zM559 445h1v1h-1zM576 445h1v1h-1zM586 445h1v1h-1zM686 445h1v1h-1zM724 445h1v1h-1zM741 445h1v1h-1zM751 445h1v1h-1zM521 446h1v1h-1zM559 446h1v1h-1zM577 446h1v1h-1zM585 446h1v1h-1zM686 446h1v1h-1zM724 446h1v1h-1zM742 446h1v1h-1zM750 446h1v1h-1zM521 447h1v1h-1zM559 447h1v1h-1zM578 447h1v1h-1zM584 447h1v1h-1zM686 447h1v1h-1zM724 447h1v1h-1zM743 447h1v1h-1zM749 447h1v1h-1zM520 448h1v1h-1zM560 448h1v1h-1zM579 448h1v1h-1zM583 448h1v1h-1zM685 448h1v1h-1zM725 448h1v1h-1zM744 448h1v1h-1zM748 448h1v1h-1zM520 449h1v1h-1zM560 449h1v1h-1zM580 449h1v1h-1zM582 449h1v1h-1zM685 449h1v1h-1zM725 449h1v1h-1zM745 449h1v1h-1zM747 449h1v1h-1zM520 450h1v1h-1zM560 450h1v1h-1zM581 450h1v1h-1zM685 450h1v1h-1zM725 450h1v1h-1zM746 450h1v1h-1zM520 451h1v1h-1zM560 451h1v1h-1zM581 451h1v1h-1zM685 451h1v1h-1zM725 451h1v1h-1zM746 451h1v1h-1zM520 452h1v1h-1zM560 452h1v1h-1zM580 452h1v1h-1zM582 452h1v1h-1zM685 452h1v1h-1zM725 452h1v1h-1zM745 452h1v1h-1zM747 452h1v1h-1zM520 453h1v1h-1zM560 453h1v1h-1zM579 453h1v1h-1zM583 453h1v1h-1zM685 453h1v1h-1zM725 453h1v1h-1zM744 453h1v1h-1zM748 453h1v1h-1zM521 454h1v1h-1zM559 454h1v1h-1zM578 454h1v1h-1zM584 454h1v1h-1zM686 454h1v1h-1zM724 454h1v1h-1zM743 454h1v1h-1zM749 454h1v1h-1zM521 455h1v1h-1zM559 455h1v1h-1zM577 455h1v1h-1zM585 455h1v1h-1zM686 455h1v1h-1zM724 455h1v1h-1zM742 455h1v1h-1zM750 455h1v1h-1zM521 456h1v1h-1zM559 456h1v1h-1zM576 456h1v1h-1zM586 456h1v1h-1zM686 456h1v1h-1zM724 456h1v1h-1zM741 456h1v1h-1zM751 456h1v1h-1zM521 457h1v1h-1zM559 457h1v1h-1zM575 457h1v1h-1zM587 457h1v1h-1zM686 457h1v1h-1zM724 457h1v1h-1zM740 457h1v1h-1zM752 457h1v1h-1zM521 458h1v1h-1zM559 458h1v1h-1zM574 458h1v1h-1zM588 458h1v1h-1zM686 458h1v1h-1zM724 458h1v1h-1zM739 458h1v1h-1zM753 458h1v1h-1zM522 459h1v1h-1zM558 459h1v1h-1zM573 459h1v1h-1zM589 459h1v1h-1zM687 459h1v1h-1zM723 459h1v1h-1zM738 459h1v1h-1zM754 459h1v1h-1zM523 460h1v1h-1zM557 460h1v1h-1zM572 460h1v1h-1zM590 460h1v1h-1zM688 460h1v1h-1zM722 460h1v1h-1zM737 460h1v1h-1zM755 460h1v1h-1zM523 461h1v1h-1zM557 461h1v1h-1zM571 461h1v1h-1zM591 461h1v1h-1zM688 461h1v1h-1zM722 461h1v1h-1zM736 461h1v1h-1zM756 461h1v1h-1zM524 462h1v1h-1zM556 462h1v1h-1zM570 462h1v1h-1zM592 462h1v1h-1zM689 462h1v1h-1zM721 462h1v1h-1zM735 462h1v1h-1zM757 462h1v1h-1zM525 463h1v1h-1zM555 463h1v1h-1zM569 463h1v1h-1zM593 463h1v1h-1zM690 463h1v1h-1zM720 463h1v1h-1zM734 463h1v1h-1zM758 463h1v1h-1zM525 464h1v1h-1zM555 464h1v1h-1zM568 464h1v1h-1zM594 464h1v1h-1zM690 464h1v1h-1zM720 464h1v1h-1zM733 464h1v1h-1zM759 464h1v1h-1zM526 465h1v1h-1zM554 465h1v1h-1zM567 465h1v1h-1zM595 465h1v1h-1zM691 465h1v1h-1zM719 465h1v1h-1zM732 465h1v1h-1zM760 465h1v1h-1zM527 466h2v1h-2zM552 466h2v1h-2zM566 466h1v1h-1zM596 466h1v1h-1zM692 466h2v1h-2zM717 466h2v1h-2zM731 466h1v1h-1zM761 466h1v1h-1zM529 467h1v1h-1zM551 467h1v1h-1zM565 467h1v1h-1zM597 467h1v1h-1zM694 467h1v1h-1zM716 467h1v1h-1zM730 467h1v1h-1zM762 467h1v1h-1zM530 468h1v1h-1zM550 468h1v1h-1zM564 468h1v1h-1zM598 468h1v1h-1zM695 468h1v1h-1zM715 468h1v1h-1zM729 468h1v1h-1zM763 468h1v1h-1zM531 469h2v1h-2zM548 469h2v1h-2zM563 469h1v1h-1zM599 469h1v1h-1zM696 469h2v1h-2zM713 469h2v1h-2zM728 469h1v1h-1zM764 469h1v1h-1zM533 470h5v1h-5zM543 470h5v1h-5zM562 470h1v1h-1zM600 470h1v1h-1zM698 470h5v1h-5zM708 470h5v1h-5zM727 470h1v1h-1zM765 470h1v1h-1zM538 471h5v1h-5zM561 471h1v1h-1zM601 471h1v1h-1zM703 471h5v1h-5zM726 471h1v1h-1zM766 471h1v1h-1zM533 472h5v1h-5zM543 472h5v1h-5zM562 472h1v1h-1zM600 472h1v1h-1zM698 472h5v1h-5zM708 472h5v1h-5zM727 472h1v1h-1zM765 472h1v1h-1zM531 473h2v1h-2zM548 473h2v1h-2zM563 473h1v1h-1zM599 473h1v1h-1zM696 473h2v1h-2zM713 473h2v1h-2zM728 473h1v1h-1zM764 473h1v1h-1zM530 474h1v1h-1zM550 474h1v1h-1zM564 474h1v1h-1zM598 474h1v1h-1zM695 474h1v1h-1zM715 474h1v1h-1zM729 474h1v1h-1zM763 474h1v1h-1zM529 475h1v1h-1zM551 475h1v1h-1zM565 475h1v1h-1zM597 475h1v1h-1zM694 475h1v1h-1zM716 475h1v1h-1zM730 475h1v1h-1zM762 475h1v1h-1zM527 476h2v1h-2zM552 476h2v1h-2zM566 476h1v1h-1zM596 476h1v1h-1zM692 476h2v1h-2zM717 476h2v1h-2zM731 476h1v1h-1zM761 476h1v1h-1zM526 477h1v1h-1zM554 477h1v1h-1zM567 477h1v1h-1zM595 477h1v1h-1zM691 477h1v1h-1zM719 477h1v1h-1zM732 477h1v1h-1zM760 477h1v1h-1zM525 478h1v1h-1zM555 478h1v1h-1zM568 478h1v1h-1zM594 478h1v1h-1zM690 478h1v1h-1zM720 478h1v1h-1zM733 478h1v1h-1zM759 478h1v1h-1zM525 479h1v1h-1zM555 479h1v1h-1zM569 479h1v1h-1zM593 479h1v1h-1zM690 479h1v1h-1zM720 479h1v1h-1zM734 479h1v1h-1zM758 479h1v1h-1zM524 480h1v1h-1zM556 480h1v1h-1zM570 480h1v1h-1zM592 480h1v1h-1zM689 480h1v1h-1zM721 480h1v1h-1zM735 480h1v1h-1zM757 480h1v1h-1zM523 481h1v1h-1zM557 481h1v1h-1zM571 481h1v1h-1zM591 481h1v1h-1zM688 481h1v1h-1zM722 481h1v1h-1zM736 481h1v1h-1zM756 481h1v1h-1zM523 482h1v1h-1zM557 482h1v1h-1zM572 482h1v1h-1zM590 482h1v1h-1zM688 482h1v1h-1zM722 482h1v1h-1zM737 482h1v1h-1zM755 482h1v1h-1zM522 483h1v1h-1zM558 483h1v1h-1zM573 483h1v1h-1zM589 483h1v1h-1zM687 483h1v1h-1zM723 483h1v1h-1zM738 483h1v1h-1zM754 483h1v1h-1zM521 484h1v1h-1zM559 484h1v1h-1zM574 484h1v1h-1zM588 484h1v1h-1zM686 484h1v1h-1zM724 484h1v1h-1zM739 484h1v1h-1zM753 484h1v1h-1zM521 485h1v1h-1zM559 485h1v1h-1zM575 485h1v1h-1zM587 485h1v1h-1zM686 485h1v1h-1zM724 485h1v1h-1zM740 485h1v1h-1zM752 485h1v1h-1zM521 486h1v1h-1zM559 486h1v1h-1zM576 486h1v1h-1zM586 486h1v1h-1zM686 486h1v1h-1zM724 486h1v1h-1zM741 486h1v1h-1zM751 486h1v1h-1zM521 487h1v1h-1zM559 487h1v1h-1zM577 487h1v1h-1zM585 487h1v1h-1zM686 487h1v1h-1zM724 487h1v1h-1zM742 487h1v1h-1zM750 487h1v1h-1zM521 488h1v1h-1zM559 488h1v1h-1zM578 488h1v1h-1zM584 488h1v1h-1zM686 488h1v1h-1zM724 488h1v1h-1zM743 488h1v1h-1zM749 488h1v1h-1zM520 489h1v1h-1zM560 489h1v1h-1zM579 489h1v1h-1zM583 489h1v1h-1zM685 489h1v1h-1zM725 489h1v1h-1zM744 489h1v1h-1zM748 489h1v1h-1zM520 490h1v1h-1zM560 490h1v1h-1zM580 490h1v1h-1zM582 490h1v1h-1zM685 490h1v1h-1zM725 490h1v1h-1zM745 490h1v1h-1zM747 490h1v1h-1zM520 491h1v1h-1zM560 491h1v1h-1zM581 491h1v1h-1zM685 491h1v1h-1zM725 491h1v1h-1zM746 491h1v1h-1zM520 492h1v1h-1zM560 492h1v1h-1zM581 492h1v1h-1zM685 492h1v1h-1zM725 492h1v1h-1zM746 492h1v1h-1zM520 493h1v1h-1zM560 493h1v1h-1zM580 493h1v1h-1zM582 493h1v1h-1zM685 493h1v1h-1zM725 493h1v1h-1zM745 493h1v1h-1zM747 493h1v1h-1zM520 494h1v1h-1zM560 494h1v1h-1zM579 494h1v1h-1zM583 494h1v1h-1zM685 494h1v1h-1zM725 494h1v1h-1zM744 494h1v1h-1zM748 494h1v1h-1zM521 495h1v1h-1zM559 495h1v1h-1zM578 495h1v1h-1zM584 495h1v1h-1zM686 495h1v1h-1zM724 495h1v1h-1zM743 495h1v1h-1zM749 495h1v1h-1zM521 496h1v1h-1zM559 496h1v1h-1zM577 496h1v1h-1zM585 496h1v1h-1zM686 496h1v1h-1zM724 496h1v1h-1zM742 496h1v1h-1zM750 496h1v1h-1zM521 497h1v1h-1zM559 497h1v1h-1zM576 497h1v1h-1zM586 497h1v1h-1zM686 497h1v1h-1zM724 497h1v1h-1zM741 497h1v1h-1zM751 497h1v1h-1zM521 498h1v1h-1zM559 498h1v1h-1zM575 498h1v1h-1zM587 498h1v1h-1zM686 498h1v1h-1zM724 498h1v1h-1zM740 498h1v1h-1zM752 498h1v1h-1zM521 499h1v1h-1zM559 499h1v1h-1zM574 499h1v1h-1zM588 499h1v1h-1zM686 499h1v1h-1zM724 499h1v1h-1zM739 499h1v1h-1zM753 499h1v1h-1zM522 500h1v1h-1zM558 500h1v1h-1zM573 500h1v1h-1zM589 500h1v1h-1zM687 500h1v1h-1zM723 500h1v1h-1zM738 500h1v1h-1zM754 500h1v1h-1zM523 501h1v1h-1zM557 501h1v1h-1zM572 501h1v1h-1zM590 501h1v1h-1zM688 501h1v1h-1zM722 501h1v1h-1zM737 501h1v1h-1zM755 501h1v1h-1zM523 502h1v1h-1zM557 502h1v1h-1zM571 502h1v1h-1zM591 502h1v1h-1zM688 502h1v1h-1zM722 502h1v1h-1zM736 502h1v1h-1zM756 502h1v1h-1zM524 503h1v1h-1zM556 503h1v1h-1zM570 503h1v1h-1zM592 503h1v1h-1zM689 503h1v1h-1zM721 503h1v1h-1zM735 503h1v1h-1zM757 503h1v1h-1zM525 504h1v1h-1zM555 504h1v1h-1zM569 504h1v1h-1zM593 504h1v1h-1zM690 504h1v1h-1zM720 504h1v1h-1zM734 504h1v1h-1zM758 504h1v1h-1zM525 505h1v1h-1zM555 505h1v1h-1zM568 505h1v1h-1zM594 505h1v1h-1zM690 505h1v1h-1zM720 505h1v1h-1zM733 505h1v1h-1zM759 505h1v1h-1zM526 506h1v1h-1zM554 506h1v1h-1zM567 506h1v1h-1zM595 506h1v1h-1zM691 506h1v1h-1zM719 506h1v1h-1zM732 506h1v1h-1zM760 506h1v1h-1zM527 507h2v1h-2zM552 507h2v1h-2zM566 507h1v1h-1zM596 507h1v1h-1zM692 507h2v1h-2zM717 507h2v1h-2zM731 507h1v1h-1zM761 507h1v1h-1zM529 508h1v1h-1zM551 508h1v1h-1zM565 508h1v1h-1zM597 508h1v1h-1zM694 508h1v1h-1zM716 508h1v1h-1zM730 508h1v1h-1zM762 508h1v1h-1zM530 509h1v1h-1zM550 509h1v1h-1zM564 509h1v1h-1zM598 509h1v1h-1zM695 509h1v1h-1zM715 509h1v1h-1zM729 509h1v1h-1zM763 509h1v1h-1zM531 510h2v1h-2zM548 510h2v1h-2zM563 510h1v1h-1zM599 510h1v1h-1zM696 510h2v1h-2zM713 510h2v1h-2zM728 510h1v1h-1zM764 510h1v1h-1zM533 511h5v1h-5zM543 511h5v1h-5zM562 511h1v1h-1zM600 511h1v1h-1zM698 511h5v1h-5zM708 511h5v1h-5zM727 511h1v1h-1zM765 511h1v1h-1zM538 512h5v1h-5zM561 512h1v1h-1zM601 512h1v1h-1zM703 512h5v1h-5zM726 512h1v1h-1zM766 512h1v1h-1zM533 513h5v1h-5zM543 513h5v1h-5zM562 513h1v1h-1zM600 513h1v1h-1zM698 513h5v1h-5zM708 513h5v1h-5zM727 513h1v1h-1zM765 513h1v1h-1zM531 514h2v1h-2zM548 514h2v1h-2zM563 514h1v1h-1zM599 514h1v1h-1zM696 514h2v1h-2zM713 514h2v1h-2zM728 514h1v1h-1zM764 514h1v1h-1zM530 515h1v1h-1zM550 515h1v1h-1zM564 515h1v1h-1zM598 515h1v1h-1zM695 515h1v1h-1zM715 515h1v1h-1zM729 515h1v1h-1zM763 515h1v1h-1zM529 516h1v1h-1zM551 516h1v1h-1zM565 516h1v1h-1zM597 516h1v1h-1zM694 516h1v1h-1zM716 516h1v1h-1zM730 516h1v1h-1zM762 516h1v1h-1zM527 517h2v1h-2zM552 517h2v1h-2zM566 517h1v1h-1zM596 517h1v1h-1zM692 517h2v1h-2zM717 517h2v1h-2zM731 517h1v1h-1zM761 517h1v1h-1zM526 518h1v1h-1zM554 518h1v1h-1zM567 518h1v1h-1zM595 518h1v1h-1zM691 518h1v1h-1zM719 518h1v1h-1zM732 518h1v1h-1zM760 518h1v1h-1zM525 519h1v1h-1zM555 519h1v1h-1zM568 519h1v1h-1zM594 519h1v1h-1zM690 519h1v1h-1zM720 519h1v1h-1zM733 519h1v1h-1zM759 519h1v1h-1zM525 520h1v1h-1zM555 520h1v1h-1zM569 520h1v1h-1zM593 520h1v1h-1zM690 520h1v1h-1zM720 520h1v1h-1zM734 520h1v1h-1zM758 520h1v1h-1zM524 521h1v1h-1zM556 521h1v1h-1zM570 521h1v1h-1zM592 521h1v1h-1zM689 521h1v1h-1zM721 521h1v1h-1zM735 521h1v1h-1zM757 521h1v1h-1zM523 522h1v1h-1zM557 522h1v1h-1zM571 522h1v1h-1zM591 522h1v1h-1zM688 522h1v1h-1zM722 522h1v1h-1zM736 522h1v1h-1zM756 522h1v1h-1zM523 523h1v1h-1zM557 523h1v1h-1zM572 523h1v1h-1zM590 523h1v1h-1zM688 523h1v1h-1zM722 523h1v1h-1zM737 523h1v1h-1zM755 523h1v1h-1zM522 524h1v1h-1zM558 524h1v1h-1zM573 524h1v1h-1zM589 524h1v1h-1zM687 524h1v1h-1zM723 524h1v1h-1zM738 524h1v1h-1zM754 524h1v1h-1zM521 525h1v1h-1zM559 525h1v1h-1zM574 525h1v1h-1zM588 525h1v1h-1zM686 525h1v1h-1zM724 525h1v1h-1zM739 525h1v1h-1zM753 525h1v1h-1zM521 526h1v1h-1zM559 526h1v1h-1zM575 526h1v1h-1zM587 526h1v1h-1zM686 526h1v1h-1zM724 526h1v1h-1zM740 526h1v1h-1zM752 526h1v1h-1zM521 527h1v1h-1zM559 527h1v1h-1zM576 527h1v1h-1zM586 527h1v1h-1zM686 527h1v1h-1zM724 527h1v1h-1zM741 527h1v1h-1zM751 527h1v1h-1zM521 528h1v1h-1zM559 528h1v1h-1zM577 528h1v1h-1zM585 528h1v1h-1zM686 528h1v1h-1zM724 528h1v1h-1zM742 528h1v1h-1zM750 528h1v1h-1zM521 529h1v1h-1zM559 529h1v1h-1zM578 529h1v1h-1zM584 529h1v1h-1zM686 529h1v1h-1zM724 529h1v1h-1zM743 529h1v1h-1zM749 529h1v1h-1zM520 530h1v1h-1zM560 530h1v1h-1zM579 530h1v1h-1zM583 530h1v1h-1zM685 530h1v1h-1zM725 530h1v1h-1zM744 530h1v1h-1zM748 530h1v1h-1zM520 531h1v1h-1zM560 531h1v1h-1zM580 531h1v1h-1zM582 531h1v1h-1zM685 531h1v1h-1zM725 531h1v1h-1zM745 531h1v1h-1zM747 531h1v1h-1zM520 532h1v1h-1zM560 532h1v1h-1zM581 532h1v1h-1zM685 532h1v1h-1zM725 532h1v1h-1zM746 532h1v1h-1zM520 533h1v1h-1zM560 533h1v1h-1zM581 533h1v1h-1zM685 533h1v1h-1zM725 533h1v1h-1zM746 533h1v1h-1zM520 534h1v1h-1zM560 534h1v1h-1zM580 534h1v1h-1zM582 534h1v1h-1zM685 534h1v1h-1zM725 534h1v1h-1zM745 534h1v1h-1zM747 534h1v1h-1zM520 535h1v1h-1zM560 535h1v1h-1zM579 535h1v1h-1zM583 535h1v1h-1zM685 535h1v1h-1zM725 535h1v1h-1zM744 535h1v1h-1zM748 535h1v1h-1zM521 536h1v1h-1zM559 536h1v1h-1zM578 536h1v1h-1zM584 536h1v1h-1zM686 536h1v1h-1zM724 536h1v1h-1zM743 536h1v1h-1zM749 536h1v1h-1zM521 537h1v1h-1zM559 537h1v1h-1zM577 537h1v1h-1zM585 537h1v1h-1zM686 537h1v1h-1zM724 537h1v1h-1zM742 537h1v1h-1zM750 537h1v1h-1zM521 538h1v1h-1zM559 538h1v1h-1zM576 538h1v1h-1zM586 538h1v1h-1zM686 538h1v1h-1zM724 538h1v1h-1zM741 538h1v1h-1zM751 538h1v1h-1zM521 539h1v1h-1zM559 539h1v1h-1zM575 539h1v1h-1zM587 539h1v1h-1zM686 539h1v1h-1zM724 539h1v1h-1zM740 539h1v1h-1zM752 539h1v1h-1zM521 540h1v1h-1zM559 540h1v1h-1zM574 540h1v1h-1zM588 540h1v1h-1zM686 540h1v1h-1zM724 540h1v1h-1zM739 540h1v1h-1zM753 540h1v1h-1zM522 541h1v1h-1zM558 541h1v1h-1zM573 541h1v1h-1zM589 541h1v1h-1zM687 541h1v1h-1zM723 541h1v1h-1zM738 541h1v1h-1zM754 541h1v1h-1zM523 542h1v1h-1zM557 542h1v1h-1zM572 542h1v1h-1zM590 542h1v1h-1zM688 542h1v1h-1zM722 542h1v1h-1zM737 542h1v1h-1zM755 542h1v1h-1zM523 543h1v1h-1zM557 543h1v1h-1zM571 543h1v1h-1zM591 543h1v1h-1zM688 543h1v1h-1zM722 543h1v1h-1zM736 543h1v1h-1zM756 543h1v1h-1zM524 544h1v1h-1zM556 544h1v1h-1zM570 544h1v1h-1zM592 544h1v1h-1zM689 544h1v1h-1zM721 544h1v1h-1zM735 544h1v1h-1zM757 544h1v1h-1zM525 545h1v1h-1zM555 545h1v1h-1zM569 545h1v1h-1zM593 545h1v1h-1zM690 545h1v1h-1zM720 545h1v1h-1zM734 545h1v1h-1zM758 545h1v1h-1zM525 546h1v1h-1zM555 546h1v1h-1zM568 546h1v1h-1zM594 546h1v1h-1zM690 546h1v1h-1zM720 546h1v1h-1zM733 546h1v1h-1zM759 546h1v1h-1zM526 547h1v1h-1zM554 547h1v1h-1zM567 547h1v1h-1zM595 547h1v1h-1zM691 547h1v1h-1zM719 547h1v1h-1zM732 547h1v1h-1zM760 547h1v1h-1zM527 548h2v1h-2zM552 548h2v1h-2zM566 548h1v1h-1zM596 548h1v1h-1zM692 548h2v1h-2zM717 548h2v1h-2zM731 548h1v1h-1zM761 548h1v1h-1zM529 549h1v1h-1zM551 549h1v1h-1zM565 549h1v1h-1zM597 549h1v1h-1zM694 549h1v1h-1zM716 549h1v1h-1zM730 549h1v1h-1zM762 549h1v1h-1zM530 550h1v1h-1zM550 550h1v1h-1zM564 550h1v1h-1zM598 550h1v1h-1zM695 550h1v1h-1zM715 550h1v1h-1zM729 550h1v1h-1zM763 550h1v1h-1zM531 551h2v1h-2zM548 551h2v1h-2zM563 551h1v1h-1zM599 551h1v1h-1zM696 551h2v1h-2zM713 551h2v1h-2zM728 551h1v1h-1zM764 551h1v1h-1zM533 552h5v1h-5zM543 552h5v1h-5zM562 552h1v1h-1zM600 552h1v1h-1zM698 552h5v1h-5zM708 552h5v1h-5zM727 552h1v1h-1zM765 552h1v1h-1zM538 553h5v1h-5zM703 553h5v1h-5zM726 553h1v1h-1zM766 553h1v1h-1zM533 554h5v1h-5zM543 554h5v1h-5zM698 554h5v1h-5zM708 554h5v1h-5zM727 554h1v1h-1zM765 554h1v1h-1zM531 555h2v1h-2zM548 555h2v1h-2zM696 555h2v1h-2zM713 555h2v1h-2zM728 555h1v1h-1zM764 555h1v1h-1zM530 556h1v1h-1zM550 556h1v1h-1zM695 556h1v1h-1zM715 556h1v1h-1zM729 556h1v1h-1zM763 556h1v1h-1zM529 557h1v1h-1zM551 557h1v1h-1zM694 557h1v1h-1zM716 557h1v1h-1zM730 557h1v1h-1zM762 557h1v1h-1zM527 558h2v1h-2zM552 558h2v1h-2zM692 558h2v1h-2zM717 558h2v1h-2zM731 558h1v1h-1zM761 558h1v1h-1zM526 559h1v1h-1zM554 559h1v1h-1zM691 559h1v1h-1zM719 559h1v1h-1zM732 559h1v1h-1zM760 559h1v1h-1zM525 560h1v1h-1zM555 560h1v1h-1zM690 560h1v1h-1zM720 560h1v1h-1zM733 560h1v1h-1zM759 560h1v1h-1zM525 561h1v1h-1zM555 561h1v1h-1zM690 561h1v1h-1zM720 561h1v1h-1zM734 561h1v1h-1zM758 561h1v1h-1zM524 562h1v1h-1zM556 562h1v1h-1zM689 562h1v1h-1zM721 562h1v1h-1zM735 562h1v1h-1zM757 562h1v1h-1zM523 563h1v1h-1zM557 563h1v1h-1zM688 563h1v1h-1zM722 563h1v1h-1zM736 563h1v1h-1zM756 563h1v1h-1zM523 564h1v1h-1zM557 564h1v1h-1zM688 564h1v1h-1zM722 564h1v1h-1zM737 564h1v1h-1zM755 564h1v1h-1zM522 565h1v1h-1zM558 565h1v1h-1zM687 565h1v1h-1zM723 565h1v1h-1zM738 565h1v1h-1zM754 565h1v1h-1zM521 566h1v1h-1zM559 566h1v1h-1zM686 566h1v1h-1zM724 566h1v1h-1zM739 566h1v1h-1zM753 566h1v1h-1zM521 567h1v1h-1zM559 567h1v1h-1zM686 567h1v1h-1zM724 567h1v1h-1zM740 567h1v1h-1zM752 567h1v1h-1zM521 568h1v1h-1zM559 568h1v1h-1zM686 568h1v1h-1zM724 568h1v1h-1zM741 568h1v1h-1zM751 568h1v1h-1zM521 569h1v1h-1zM559 569h1v1h-1zM686 569h1v1h-1zM724 569h1v1h-1zM742 569h1v1h-1zM750 569h1v1h-1zM521 570h1v1h-1zM559 570h1v1h-1zM686 570h1v1h-1zM724 570h1v1h-1zM743 570h1v1h-1zM749 570h1v1h-1zM520 571h1v1h-1zM560 571h1v1h-1zM685 571h1v1h-1zM725 571h1v1h-1zM744 571h1v1h-1zM748 571h1v1h-1zM520 572h1v1h-1zM560 572h1v1h-1zM685 572h1v1h-1zM725 572h1v1h-1zM745 572h1v1h-1zM747 572h1v1h-1z"/>
<path fill="#000080" d="M37 308h5v1h-5zM47 308h5v1h-5zM66 308h1v1h-1zM104 308h1v1h-1zM149 308h1v1h-1zM187 308h1v1h-1zM35 309h2v1h-2zM52 309h2v1h-2zM67 309h1v1h-1zM103 309h1v1h-1zM150 309h1v1h-1zM186 309h1v1h-1zM26 310h1v1h-1zM34 310h1v1h-1zM37 310h1v1h-1zM54 310h1v1h-1zM68 310h1v1h-1zM102 310h1v1h-1zM151 310h1v1h-1zM185 310h1v1h-1zM27 311h1v1h-1zM33 311h1v1h-1zM36 311h1v1h-1zM55 311h1v1h-1zM69 311h1v1h-1zM101 311h1v1h-1zM152 311h1v1h-1zM184 311h1v1h-1zM28 312h1v1h-1zM31 312h2v1h-2zM35 312h1v1h-1zM56 312h2v1h-2zM70 312h1v1h-1zM100 312h1v1h-1zM153 312h1v1h-1zM183 312h1v1h-1zM29 313h2v1h-2zM34 313h1v1h-1zM58 313h1v1h-1zM71 313h1v1h-1zM99 313h1v1h-1zM154 313h1v1h-1zM182 313h1v1h-1zM29 314h2v1h-2zM33 314h1v1h-1zM59 314h1v1h-1zM72 314h1v1h-1zM98 314h1v1h-1zM155 314h1v1h-1zM181 314h1v1h-1zM29 315h1v1h-1zM31 315h2v1h-2zM59 315h1v1h-1zM73 315h1v1h-1zM97 315h1v1h-1zM156 315h1v1h-1zM180 315h1v1h-1zM28 316h1v1h-1zM30 316h1v1h-1zM33 316h1v1h-1zM60 316h1v1h-1zM74 316h1v1h-1zM96 316h1v1h-1zM157 316h1v1h-1zM179 316h1v1h-1zM27 317h1v1h-1zM29 317h1v1h-1zM34 317h1v1h-1zM61 317h1v1h-1zM75 317h1v1h-1zM95 317h1v1h-1zM158 317h1v1h-1zM178 317h1v1h-1zM27 318h2v1h-2zM35 318h1v1h-1zM61 318h1v1h-1zM76 318h1v1h-1zM94 318h1v1h-1zM159 318h1v1h-1zM177 318h1v1h-1zM26 319h2v1h-2zM36 319h1v1h-1zM62 319h1v1h-1zM77 319h1v1h-1zM93 319h1v1h-1zM160 319h1v1h-1zM176 319h1v1h-1zM25 320h2v1h-2zM37 320h1v1h-1zM63 320h1v1h-1zM78 320h1v1h-1zM92 320h1v1h-1zM161 320h1v1h-1zM175 320h1v1h-1zM25 321h1v1h-1zM63 321h1v1h-1zM79 321h1v1h-1zM91 321h1v1h-1zM162 321h1v1h-1zM174 321h1v1h-1zM25 322h1v1h-1zM63 322h1v1h-1zM80 322h1v1h-1zM90 322h1v1h-1zM163 322h1v1h-1zM173 322h1v1h-1zM25 323h1v1h-1zM63 323h1v1h-1zM81 323h1v1h-1zM89 323h1v1h-1zM164 323h1v1h-1zM172 323h1v1h-1zM25 324h1v1h-1zM63 324h1v1h-1zM82 324h1v1h-1zM88 324h1v1h-1zM165 324h1v1h-1zM171 324h1v1h-1zM64 325h1v1h-1zM83 325h1v1h-1zM87 325h1v1h-1zM166 325h1v1h-1zM170 325h1v1h-1zM64 326h1v1h-1zM84 326h1v1h-1zM86 326h1v1h-1zM167 326h1v1h-1zM169 326h1v1h-1zM64 327h1v1h-1zM85 327h1v1h-1zM168 327h1v1h-1zM64 328h1v1h-1zM85 328h1v1h-1zM168 328h1v1h-1zM64 329h1v1h-1zM84 329h1v1h-1zM86 329h1v1h-1zM167 329h1v1h-1zM169 329h1v1h-1zM64 330h1v1h-1zM83 330h1v1h-1zM87 330h1v1h-1zM166 330h1v1h-1zM170 330h1v1h-1zM25 331h1v1h-1zM63 331h1v1h-1zM82 331h1v1h-1zM88 331h1v1h-1zM165 331h1v1h-1zM171 331h1v1h-1zM25 332h1v1h-1zM63 332h1v1h-1zM81 332h1v1h-1zM89 332h1v1h-1zM164 332h1v1h-1zM172 332h1v1h-1zM25 333h1v1h-1zM63 333h1v1h-1zM80 333h1v1h-1zM90 333h1v1h-1zM163 333h1v1h-1zM173 333h1v1h-1zM25 334h1v1h-1zM63 334h1v1h-1zM79 334h1v1h-1zM91 334h1v1h-1zM162 334h1v1h-1zM174 334h1v1h-1zM25 335h1v1h-1zM63 335h1v1h-1zM78 335h1v1h-1zM92 335h1v1h-1zM161 335h1v1h-1zM175 335h1v1h-1zM26 336h1v1h-1zM62 336h1v1h-1zM77 336h1v1h-1zM93 336h1v1h-1zM160 336h1v1h-1zM176 336h1v1h-1zM27 337h1v1h-1zM61 337h1v1h-1zM76 337h1v1h-1zM94 337h1v1h-1zM159 337h1v1h-1zM177 337h1v1h-1zM27 338h1v1h-1zM61 338h1v1h-1zM75 338h1v1h-1zM95 338h1v1h-1zM158 338h1v1h-1zM178 338h1v1h-1zM28 339h1v1h-1zM60 339h1v1h-1zM74 339h1v1h-1zM96 339h1v1h-1zM157 339h1v1h-1zM179 339h1v1h-1zM29 340h1v1h-1zM59 340h1v1h-1zM73 340h1v1h-1zM97 340h1v1h-1zM156 340h1v1h-1zM180 340h1v1h-1zM29 341h1v1h-1zM59 341h1v1h-1zM72 341h1v1h-1zM98 341h1v1h-1zM155 341h1v1h-1zM181 341h1v1h-1zM30 342h1v1h-1zM58 342h1v1h-1zM71 342h1v1h-1zM99 342h1v1h-1zM154 342h1v1h-1zM182 342h1v1h-1zM31 343h2v1h-2zM56 343h2v1h-2zM70 343h1v1h-1zM100 343h1v1h-1zM153 343h1v1h-1zM183 343h1v1h-1zM33 344h1v1h-1zM55 344h1v1h-1zM69 344h1v1h-1zM101 344h1v1h-1zM152 344h1v1h-1zM184 344h1v1h-1zM34 345h1v1h-1zM54 345h1v1h-1zM68 345h1v1h-1zM102 345h1v1h-1zM151 345h1v1h-1zM185 345h1v1h-1zM35 346h2v1h-2zM52 346h2v1h-2zM67 346h1v1h-1zM103 346h1v1h-1zM150 346h1v1h-1zM186 346h1v1h-1zM37 347h5v1h-5zM47 347h5v1h-5zM66 347h1v1h-1zM104 347h1v1h-1zM149 347h1v1h-1zM187 347h1v1h-1zM42 348h5v1h-5zM65 348h1v1h-1zM105 348h1v1h-1zM37 349h5v1h-5zM47 349h5v1h-5zM66 349h1v1h-1zM104 349h1v1h-1zM35 350h2v1h-2zM52 350h2v1h-2zM67 350h1v1h-1zM103 350h1v1h-1zM34 351h1v1h-1zM54 351h1v1h-1zM68 351h1v1h-1zM102 351h1v1h-1zM33 352h1v1h-1zM55 352h1v1h-1zM69 352h1v1h-1zM101 352h1v1h-1zM31 353h2v1h-2zM56 353h2v1h-2zM70 353h1v1h-1zM100 353h1v1h-1zM30 354h1v1h-1zM58 354h1v1h-1zM71 354h1v1h-1zM99 354h1v1h-1zM29 355h1v1h-1zM59 355h1v1h-1zM72 355h1v1h-1zM98 355h1v1h-1zM29 356h1v1h-1zM59 356h1v1h-1zM73 356h1v1h-1zM97 356h1v1h-1zM28 357h1v1h-1zM60 357h1v1h-1zM74 357h1v1h-1zM96 357h1v1h-1zM27 358h1v1h-1zM61 358h1v1h-1zM75 358h1v1h-1zM95 358h1v1h-1zM27 359h1v1h-1zM61 359h1v1h-1zM76 359h1v1h-1zM94 359h1v1h-1zM26 360h1v1h-1zM62 360h1v1h-1zM77 360h1v1h-1zM93 360h1v1h-1zM25 361h1v1h-1zM63 361h1v1h-1zM78 361h1v1h-1zM92 361h1v1h-1zM25 362h1v1h-1zM63 362h1v1h-1zM79 362h1v1h-1zM91 362h1v1h-1zM25 363h1v1h-1zM63 363h1v1h-1zM80 363h1v1h-1zM90 363h1v1h-1zM25 364h1v1h-1zM63 364h1v1h-1zM81 364h1v1h-1zM89 364h1v1h-1zM25 365h1v1h-1zM63 365h1v1h-1zM82 365h1v1h-1zM88 365h1v1h-1zM64 366h1v1h-1zM83 366h1v1h-1zM87 366h1v1h-1zM64 367h1v1h-1zM84 367h1v1h-1zM86 367h1v1h-1zM64 368h1v1h-1zM85 368h1v1h-1zM64 369h1v1h-1zM85 369h1v1h-1zM64 370h1v1h-1zM84 370h1v1h-1zM86 370h1v1h-1zM64 371h1v1h-1zM83 371h1v1h-1zM87 371h1v1h-1zM25 372h1v1h-1zM63 372h1v1h-1zM82 372h1v1h-1zM88 372h1v1h-1zM25 373h1v1h-1zM63 373h1v1h-1zM81 373h1v1h-1zM89 373h1v1h-1zM25 374h1v1h-1zM63 374h1v1h-1zM80 374h1v1h-1zM90 374h1v1h-1zM25 375h1v1h-1zM63 375h1v1h-1zM79 375h1v1h-1zM91 375h1v1h-1zM25 376h1v1h-1zM63 376h1v1h-1zM78 376h1v1h-1zM92 376h1v1h-1zM26 377h1v1h-1zM62 377h1v1h-1zM77 377h1v1h-1zM93 377h1v1h-1zM27 378h1v1h-1zM61 378h1v1h-1zM76 378h1v1h-1zM94 378h1v1h-1zM27 379h1v1h-1zM61 379h1v1h-1zM75 379h1v1h-1zM95 379h1v1h-1zM28 380h1v1h-1zM60 380h1v1h-1zM74 380h1v1h-1zM96 380h1v1h-1zM29 381h1v1h-1zM59 381h1v1h-1zM73 381h1v1h-1zM97 381h1v1h-1zM29 382h1v1h-1zM59 382h1v1h-1zM72 382h1v1h-1zM98 382h1v1h-1zM30 383h1v1h-1zM58 383h1v1h-1zM71 383h1v1h-1zM99 383h1v1h-1zM31 384h2v1h-2zM56 384h2v1h-2zM70 384h1v1h-1zM100 384h1v1h-1zM33 385h1v1h-1zM55 385h1v1h-1zM69 385h1v1h-1zM101 385h1v1h-1zM34 386h1v1h-1zM54 386h1v1h-1zM68 386h1v1h-1zM102 386h1v1h-1zM35 387h2v1h-2zM52 387h2v1h-2zM67 387h1v1h-1zM103 387h1v1h-1zM37 388h5v1h-5zM47 388h5v1h-5zM66 388h1v1h-1zM104 388h1v1h-1zM42 389h5v1h-5zM65 389h1v1h-1zM105 389h1v1h-1zM621 389h5v1h-5zM37 390h5v1h-5zM47 390h5v1h-5zM66 390h1v1h-1zM104 390h1v1h-1zM616 390h5v1h-5zM626 390h5v1h-5zM35 391h2v1h-2zM52 391h2v1h-2zM67 391h1v1h-1zM103 391h1v1h-1zM614 391h2v1h-2zM631 391h2v1h-2zM34 392h1v1h-1zM54 392h1v1h-1zM68 392h1v1h-1zM102 392h1v1h-1zM613 392h1v1h-1zM633 392h1v1h-1zM33 393h1v1h-1zM55 393h1v1h-1zM69 393h1v1h-1zM101 393h1v1h-1zM612 393h1v1h-1zM634 393h1v1h-1zM31 394h2v1h-2zM56 394h2v1h-2zM70 394h1v1h-1zM100 394h1v1h-1zM610 394h2v1h-2zM635 394h2v1h-2zM30 395h1v1h-1zM58 395h1v1h-1zM71 395h1v1h-1zM99 395h1v1h-1zM609 395h1v1h-1zM637 395h1v1h-1zM29 396h1v1h-1zM59 396h1v1h-1zM72 396h1v1h-1zM98 396h1v1h-1zM608 396h1v1h-1zM638 396h1v1h-1zM29 397h1v1h-1zM59 397h1v1h-1zM73 397h1v1h-1zM97 397h1v1h-1zM608 397h1v1h-1zM638 397h1v1h-1zM28 398h1v1h-1zM60 398h1v1h-1zM74 398h1v1h-1zM96 398h1v1h-1zM607 398h1v1h-1zM639 398h1v1h-1zM27 399h1v1h-1zM61 399h1v1h-1zM75 399h1v1h-1zM95 399h1v1h-1zM606 399h1v1h-1zM640 399h1v1h-1zM27 400h1v1h-1zM61 400h1v1h-1zM76 400h1v1h-1zM94 400h1v1h-1zM606 400h1v1h-1zM640 400h1v1h-1zM26 401h1v1h-1zM62 401h1v1h-1zM77 401h1v1h-1zM93 401h1v1h-1zM605 401h1v1h-1zM641 401h1v1h-1zM25 402h1v1h-1zM63 402h1v1h-1zM78 402h1v1h-1zM92 402h1v1h-1zM604 402h1v1h-1zM642 402h1v1h-1zM25 403h1v1h-1zM63 403h1v1h-1zM79 403h1v1h-1zM91 403h1v1h-1zM604 403h1v1h-1zM642 403h1v1h-1zM25 404h1v1h-1zM63 404h1v1h-1zM80 404h1v1h-1zM90 404h1v1h-1zM604 404h1v1h-1zM642 404h1v1h-1zM25 405h1v1h-1zM63 405h1v1h-1zM81 405h1v1h-1zM89 405h1v1h-1zM604 405h1v1h-1zM642 405h1v1h-1zM25 406h1v1h-1zM63 406h1v1h-1zM82 406h1v1h-1zM88 406h1v1h-1zM604 406h1v1h-1zM642 406h1v1h-1zM64 407h1v1h-1zM83 407h1v1h-1zM87 407h1v1h-1zM603 407h1v1h-1zM643 407h1v1h-1zM64 408h1v1h-1zM84 408h1v1h-1zM86 408h1v1h-1zM603 408h1v1h-1zM643 408h1v1h-1zM64 409h1v1h-1zM85 409h1v1h-1zM603 409h1v1h-1zM643 409h1v1h-1zM64 410h1v1h-1zM85 410h1v1h-1zM603 410h1v1h-1zM643 410h1v1h-1zM64 411h1v1h-1zM84 411h1v1h-1zM86 411h1v1h-1zM603 411h1v1h-1zM643 411h1v1h-1zM64 412h1v1h-1zM83 412h1v1h-1zM87 412h1v1h-1zM603 412h1v1h-1zM643 412h1v1h-1zM25 413h1v1h-1zM63 413h1v1h-1zM82 413h1v1h-1zM88 413h1v1h-1zM604 413h1v1h-1zM642 413h1v1h-1zM25 414h1v1h-1zM63 414h1v1h-1zM81 414h1v1h-1zM89 414h1v1h-1zM604 414h1v1h-1zM642 414h1v1h-1zM25 415h1v1h-1zM63 415h1v1h-1zM80 415h1v1h-1zM90 415h1v1h-1zM604 415h1v1h-1zM642 415h1v1h-1zM25 416h1v1h-1zM63 416h1v1h-1zM79 416h1v1h-1zM91 416h1v1h-1zM604 416h1v1h-1zM642 416h1v1h-1zM25 417h1v1h-1zM63 417h1v1h-1zM78 417h1v1h-1zM92 417h1v1h-1zM604 417h1v1h-1zM642 417h1v1h-1zM26 418h1v1h-1zM62 418h1v1h-1zM77 418h1v1h-1zM93 418h1v1h-1zM605 418h1v1h-1zM641 418h1v1h-1zM27 419h1v1h-1zM61 419h1v1h-1zM76 419h1v1h-1zM94 419h1v1h-1zM606 419h1v1h-1zM640 419h1v1h-1zM27 420h1v1h-1zM61 420h1v1h-1zM75 420h1v1h-1zM95 420h1v1h-1zM606 420h1v1h-1zM640 420h1v1h-1zM28 421h1v1h-1zM60 421h1v1h-1zM74 421h1v1h-1zM96 421h1v1h-1zM607 421h1v1h-1zM639 421h1v1h-1zM29 422h1v1h-1zM59 422h1v1h-1zM73 422h1v1h-1zM97 422h1v1h-1zM608 422h1v1h-1zM638 422h1v1h-1zM29 423h1v1h-1zM59 423h1v1h-1zM72 423h1v1h-1zM98 423h1v1h-1zM608 423h1v1h-1zM638 423h1v1h-1zM30 424h1v1h-1zM58 424h1v1h-1zM71 424h1v1h-1zM99 424h1v1h-1zM609 424h1v1h-1zM637 424h1v1h-1zM31 425h2v1h-2zM56 425h2v1h-2zM70 425h1v1h-1zM100 425h1v1h-1zM610 425h2v1h-2zM635 425h2v1h-2zM33 426h1v1h-1zM55 426h1v1h-1zM69 426h1v1h-1zM101 426h1v1h-1zM612 426h1v1h-1zM634 426h1v1h-1zM34 427h1v1h-1zM54 427h1v1h-1zM68 427h1v1h-1zM102 427h1v1h-1zM613 427h1v1h-1zM633 427h1v1h-1zM35 428h2v1h-2zM52 428h2v1h-2zM67 428h1v1h-1zM103 428h1v1h-1zM614 428h2v1h-2zM631 428h2v1h-2zM37 429h5v1h-5zM47 429h5v1h-5zM66 429h1v1h-1zM104 429h1v1h-1zM616 429h5v1h-5zM626 429h5v1h-5zM42 430h5v1h-5zM621 430h5v1h-5zM644 430h1v1h-1zM684 430h1v1h-1zM37 431h5v1h-5zM47 431h5v1h-5zM616 431h5v1h-5zM626 431h5v1h-5zM645 431h1v1h-1zM683 431h1v1h-1zM35 432h2v1h-2zM52 432h2v1h-2zM614 432h2v1h-2zM631 432h2v1h-2zM646 432h1v1h-1zM682 432h1v1h-1zM34 433h1v1h-1zM54 433h1v1h-1zM613 433h1v1h-1zM633 433h1v1h-1zM647 433h1v1h-1zM681 433h1v1h-1zM33 434h1v1h-1zM55 434h1v1h-1zM612 434h1v1h-1zM634 434h1v1h-1zM648 434h1v1h-1zM680 434h1v1h-1zM31 435h2v1h-2zM56 435h2v1h-2zM610 435h2v1h-2zM635 435h2v1h-2zM649 435h1v1h-1zM679 435h1v1h-1zM30 436h1v1h-1zM58 436h1v1h-1zM609 436h1v1h-1zM637 436h1v1h-1zM650 436h1v1h-1zM678 436h1v1h-1zM29 437h1v1h-1zM59 437h1v1h-1zM608 437h1v1h-1zM638 437h1v1h-1zM651 437h1v1h-1zM677 437h1v1h-1zM29 438h1v1h-1zM59 438h1v1h-1zM608 438h1v1h-1zM638 438h1v1h-1zM652 438h1v1h-1zM676 438h1v1h-1zM28 439h1v1h-1zM60 439h1v1h-1zM607 439h1v1h-1zM639 439h1v1h-1zM653 439h1v1h-1zM675 439h1v1h-1zM27 440h1v1h-1zM61 440h1v1h-1zM606 440h1v1h-1zM640 440h1v1h-1zM654 440h1v1h-1zM674 440h1v1h-1zM27 441h1v1h-1zM61 441h1v1h-1zM606 441h1v1h-1zM640 441h1v1h-1zM655 441h1v1h-1zM673 441h1v1h-1zM26 442h1v1h-1zM62 442h1v1h-1zM605 442h1v1h-1zM641 442h1v1h-1zM656 442h1v1h-1zM672 442h1v1h-1zM25 443h1v1h-1zM63 443h1v1h-1zM604 443h1v1h-1zM642 443h1v1h-1zM657 443h1v1h-1zM671 443h1v1h-1zM25 444h1v1h-1zM63 444h1v1h-1zM604 444h1v1h-1zM642 444h1v1h-1zM658 444h1v1h-1zM670 444h1v1h-1zM25 445h1v1h-1zM63 445h1v1h-1zM604 445h1v1h-1zM642 445h1v1h-1zM659 445h1v1h-1zM669 445h1v1h-1zM25 446h1v1h-1zM63 446h1v1h-1zM604 446h1v1h-1zM642 446h1v1h-1zM660 446h1v1h-1zM668 446h1v1h-1zM25 447h1v1h-1zM63 447h1v1h-1zM604 447h1v1h-1zM642 447h1v1h-1zM661 447h1v1h-1zM667 447h1v1h-1zM64 448h1v1h-1zM603 448h1v1h-1zM643 448h1v1h-1zM662 448h1v1h-1zM666 448h1v1h-1zM64 449h1v1h-1zM603 449h1v1h-1zM643 449h1v1h-1zM663 449h1v1h-1zM665 449h1v1h-1zM64 450h1v1h-1zM603 450h1v1h-1zM643 450h1v1h-1zM664 450h1v1h-1zM64 451h1v1h-1zM603 451h1v1h-1zM643 451h1v1h-1zM664 451h1v1h-1zM64 452h1v1h-1zM603 452h1v1h-1zM643 452h1v1h-1zM663 452h1v1h-1zM665 452h1v1h-1zM64 453h1v1h-1zM603 453h1v1h-1zM643 453h1v1h-1zM662 453h1v1h-1zM666 453h1v1h-1zM25 454h1v1h-1zM63 454h1v1h-1zM604 454h1v1h-1zM642 454h1v1h-1zM661 454h1v1h-1zM667 454h1v1h-1zM25 455h1v1h-1zM63 455h1v1h-1zM604 455h1v1h-1zM642 455h1v1h-1zM660 455h1v1h-1zM668 455h1v1h-1zM25 456h1v1h-1zM63 456h1v1h-1zM604 456h1v1h-1zM642 456h1v1h-1zM659 456h1v1h-1zM669 456h1v1h-1zM25 457h1v1h-1zM63 457h1v1h-1zM604 457h1v1h-1zM642 457h1v1h-1zM658 457h1v1h-1zM670 457h1v1h-1zM25 458h1v1h-1zM63 458h1v1h-1zM604 458h1v1h-1zM642 458h1v1h-1zM657 458h1v1h-1zM671 458h1v1h-1zM26 459h1v1h-1zM62 459h1v1h-1zM605 459h1v1h-1zM641 459h1v1h-1zM656 459h1v1h-1zM672 459h1v1h-1zM27 460h1v1h-1zM61 460h1v1h-1zM606 460h1v1h-1zM640 460h1v1h-1zM655 460h1v1h-1zM673 460h1v1h-1zM27 461h1v1h-1zM61 461h1v1h-1zM606 461h1v1h-1zM640 461h1v1h-1zM654 461h1v1h-1zM674 461h1v1h-1zM28 462h1v1h-1zM60 462h1v1h-1zM607 462h1v1h-1zM639 462h1v1h-1zM653 462h1v1h-1zM675 462h1v1h-1zM29 463h1v1h-1zM59 463h1v1h-1zM608 463h1v1h-1zM638 463h1v1h-1zM652 463h1v1h-1zM676 463h1v1h-1zM29 464h1v1h-1zM59 464h1v1h-1zM608 464h1v1h-1zM638 464h1v1h-1zM651 464h1v1h-1zM677 464h1v1h-1zM30 465h1v1h-1zM58 465h1v1h-1zM609 465h1v1h-1zM637 465h1v1h-1zM650 465h1v1h-1zM678 465h1v1h-1zM31 466h2v1h-2zM56 466h2v1h-2zM610 466h2v1h-2zM635 466h2v1h-2zM649 466h1v1h-1zM679 466h1v1h-1zM33 467h1v1h-1zM55 467h1v1h-1zM612 467h1v1h-1zM634 467h1v1h-1zM648 467h1v1h-1zM680 467h1v1h-1zM34 468h1v1h-1zM54 468h1v1h-1zM613 468h1v1h-1zM633 468h1v1h-1zM647 468h1v1h-1zM681 468h1v1h-1zM35 469h2v1h-2zM52 469h2v1h-2zM614 469h2v1h-2zM631 469h2v1h-2zM646 469h1v1h-1zM682 469h1v1h-1zM37 470h5v1h-5zM47 470h5v1h-5zM616 470h5v1h-5zM626 470h5v1h-5zM645 470h1v1h-1zM683 470h1v1h-1zM42 471h5v1h-5zM621 471h5v1h-5zM644 471h1v1h-1zM684 471h1v1h-1zM616 472h5v1h-5zM626 472h5v1h-5zM645 472h1v1h-1zM683 472h1v1h-1zM614 473h2v1h-2zM631 473h2v1h-2zM646 473h1v1h-1zM682 473h1v1h-1zM613 474h1v1h-1zM633 474h1v1h-1zM647 474h1v1h-1zM681 474h1v1h-1zM612 475h1v1h-1zM634 475h1v1h-1zM648 475h1v1h-1zM680 475h1v1h-1zM610 476h2v1h-2zM635 476h2v1h-2zM649 476h1v1h-1zM679 476h1v1h-1zM609 477h1v1h-1zM637 477h1v1h-1zM650 477h1v1h-1zM678 477h1v1h-1zM608 478h1v1h-1zM638 478h1v1h-1zM651 478h1v1h-1zM677 478h1v1h-1zM608 479h1v1h-1zM638 479h1v1h-1zM652 479h1v1h-1zM676 479h1v1h-1zM607 480h1v1h-1zM639 480h1v1h-1zM653 480h1v1h-1zM675 480h1v1h-1zM606 481h1v1h-1zM640 481h1v1h-1zM654 481h1v1h-1zM674 481h1v1h-1zM606 482h1v1h-1zM640 482h1v1h-1zM655 482h1v1h-1zM673 482h1v1h-1zM605 483h1v1h-1zM641 483h1v1h-1zM656 483h1v1h-1zM672 483h1v1h-1zM604 484h1v1h-1zM642 484h1v1h-1zM657 484h1v1h-1zM671 484h1v1h-1zM604 485h1v1h-1zM642 485h1v1h-1zM658 485h1v1h-1zM670 485h1v1h-1zM604 486h1v1h-1zM642 486h1v1h-1zM659 486h1v1h-1zM669 486h1v1h-1zM604 487h1v1h-1zM642 487h1v1h-1zM660 487h1v1h-1zM668 487h1v1h-1zM604 488h1v1h-1zM642 488h1v1h-1zM661 488h1v1h-1zM667 488h1v1h-1zM603 489h1v1h-1zM643 489h1v1h-1zM662 489h1v1h-1zM666 489h1v1h-1zM603 490h1v1h-1zM643 490h1v1h-1zM663 490h1v1h-1zM665 490h1v1h-1zM603 491h1v1h-1zM643 491h1v1h-1zM664 491h1v1h-1zM603 492h1v1h-1zM643 492h1v1h-1zM664 492h1v1h-1zM603 493h1v1h-1zM643 493h1v1h-1zM663 493h1v1h-1zM665 493h1v1h-1zM603 494h1v1h-1zM643 494h1v1h-1zM662 494h1v1h-1zM666 494h1v1h-1zM604 495h1v1h-1zM642 495h1v1h-1zM661 495h1v1h-1zM667 495h1v1h-1zM604 496h1v1h-1zM642 496h1v1h-1zM660 496h1v1h-1zM668 496h1v1h-1zM604 497h1v1h-1zM642 497h1v1h-1zM659 497h1v1h-1zM669 497h1v1h-1zM604 498h1v1h-1zM642 498h1v1h-1zM658 498h1v1h-1zM670 498h1v1h-1zM604 499h1v1h-1zM642 499h1v1h-1zM657 499h1v1h-1zM671 499h1v1h-1zM605 500h1v1h-1zM641 500h1v1h-1zM656 500h1v1h-1zM672 500h1v1h-1zM606 501h1v1h-1zM640 501h1v1h-1zM655 501h1v1h-1zM673 501h1v1h-1zM606 502h1v1h-1zM640 502h1v1h-1zM654 502h1v1h-1zM674 502h1v1h-1zM607 503h1v1h-1zM639 503h1v1h-1zM653 503h1v1h-1zM675 503h1v1h-1zM608 504h1v1h-1zM638 504h1v1h-1zM652 504h1v1h-1zM676 504h1v1h-1zM608 505h1v1h-1zM638 505h1v1h-1zM651 505h1v1h-1zM677 505h1v1h-1zM609 506h1v1h-1zM637 506h1v1h-1zM650 506h1v1h-1zM678 506h1v1h-1zM610 507h2v1h-2zM635 507h2v1h-2zM649 507h1v1h-1zM679 507h1v1h-1zM612 508h1v1h-1zM634 508h1v1h-1zM648 508h1v1h-1zM680 508h1v1h-1zM613 509h1v1h-1zM633 509h1v1h-1zM647 509h1v1h-1zM681 509h1v1h-1zM614 510h2v1h-2zM631 510h2v1h-2zM646 510h1v1h-1zM682 510h1v1h-1zM616 511h5v1h-5zM626 511h5v1h-5zM645 511h1v1h-1zM683 511h1v1h-1zM621 512h5v1h-5zM644 512h1v1h-1zM684 512h1v1h-1zM616 513h5v1h-5zM626 513h5v1h-5zM645 513h1v1h-1zM683 513h1v1h-1zM614 514h2v1h-2zM631 514h2v1h-2zM646 514h1v1h-1zM682 514h1v1h-1zM613 515h1v1h-1zM633 515h1v1h-1zM647 515h1v1h-1zM681 515h1v1h-1zM612 516h1v1h-1zM634 516h1v1h-1zM648 516h1v1h-1zM680 516h1v1h-1zM610 517h2v1h-2zM635 517h2v1h-2zM649 517h1v1h-1zM679 517h1v1h-1zM609 518h1v1h-1zM637 518h1v1h-1zM650 518h1v1h-1zM678 518h1v1h-1zM608 519h1v1h-1zM638 519h1v1h-1zM651 519h1v1h-1zM677 519h1v1h-1zM608 520h1v1h-1zM638 520h1v1h-1zM652 520h1v1h-1zM676 520h1v1h-1zM607 521h1v1h-1zM639 521h1v1h-1zM653 521h1v1h-1zM675 521h1v1h-1zM606 522h1v1h-1zM640 522h1v1h-1zM654 522h1v1h-1zM674 522h1v1h-1zM606 523h1v1h-1zM640 523h1v1h-1zM655 523h1v1h-1zM673 523h1v1h-1zM605 524h1v1h-1zM641 524h1v1h-1zM656 524h1v1h-1zM672 524h1v1h-1zM604 525h1v1h-1zM642 525h1v1h-1zM657 525h1v1h-1zM671 525h1v1h-1zM604 526h1v1h-1zM642 526h1v1h-1zM658 526h1v1h-1zM670 526h1v1h-1zM604 527h1v1h-1zM642 527h1v1h-1zM659 527h1v1h-1zM669 527h1v1h-1zM604 528h1v1h-1zM642 528h1v1h-1zM660 528h1v1h-1zM668 528h1v1h-1zM604 529h1v1h-1zM642 529h1v1h-1zM661 529h1v1h-1zM667 529h1v1h-1zM603 530h1v1h-1zM643 530h1v1h-1zM662 530h1v1h-1zM666 530h1v1h-1zM603 531h1v1h-1zM643 531h1v1h-1zM663 531h1v1h-1zM665 531h1v1h-1zM603 532h1v1h-1zM643 532h1v1h-1zM664 532h1v1h-1zM603 533h1v1h-1zM643 533h1v1h-1zM664 533h1v1h-1zM603 534h1v1h-1zM643 534h1v1h-1zM663 534h1v1h-1zM665 534h1v1h-1zM603 535h1v1h-1zM643 535h1v1h-1zM662 535h1v1h-1zM666 535h1v1h-1zM604 536h1v1h-1zM642 536h1v1h-1zM661 536h1v1h-1zM667 536h1v1h-1zM604 537h1v1h-1zM642 537h1v1h-1zM660 537h1v1h-1zM668 537h1v1h-1zM604 538h1v1h-1zM642 538h1v1h-1zM659 538h1v1h-1zM669 538h1v1h-1zM604 539h1v1h-1zM642 539h1v1h-1zM658 539h1v1h-1zM670 539h1v1h-1zM604 540h1v1h-1zM642 540h1v1h-1zM657 540h1v1h-1zM671 540h1v1h-1zM605 541h1v1h-1zM641 541h1v1h-1zM656 541h1v1h-1zM672 541h1v1h-1zM606 542h1v1h-1zM640 542h1v1h-1zM655 542h1v1h-1zM673 542h1v1h-1zM606 543h1v1h-1zM640 543h1v1h-1zM654 543h1v1h-1zM674 543h1v1h-1zM607 544h1v1h-1zM639 544h1v1h-1zM653 544h1v1h-1zM675 544h1v1h-1zM608 545h1v1h-1zM638 545h1v1h-1zM652 545h1v1h-1zM676 545h1v1h-1zM608 546h1v1h-1zM638 546h1v1h-1zM651 546h1v1h-1zM677 546h1v1h-1zM609 547h1v1h-1zM637 547h1v1h-1zM650 547h1v1h-1zM678 547h1v1h-1zM610 548h2v1h-2zM635 548h2v1h-2zM649 548h1v1h-1zM679 548h1v1h-1zM612 549h1v1h-1zM634 549h1v1h-1zM648 549h1v1h-1zM680 549h1v1h-1zM613 550h1v1h-1zM633 550h1v1h-1zM647 550h1v1h-1zM681 550h1v1h-1zM614 551h2v1h-2zM631 551h2v1h-2zM646 551h1v1h-1zM682 551h1v1h-1zM616 552h5v1h-5zM626 552h5v1h-5zM645 552h1v1h-1zM683 552h1v1h-1zM621 553h5v1h-5zM644 553h1v1h-1zM684 553h1v1h-1zM616 554h5v1h-5zM626 554h5v1h-5zM645 554h1v1h-1zM683 554h1v1h-1zM614 555h2v1h-2zM631 555h2v1h-2zM646 555h1v1h-1zM682 555h1v1h-1zM613 556h1v1h-1zM633 556h1v1h-1zM647 556h1v1h-1zM681 556h1v1h-1zM612 557h1v1h-1zM634 557h1v1h-1zM648 557h1v1h-1zM680 557h1v1h-1zM610 558h2v1h-2zM635 558h2v1h-2zM649 558h1v1h-1zM679 558h1v1h-1zM609 559h1v1h-1zM637 559h1v1h-1zM650 559h1v1h-1zM678 559h1v1h-1zM608 560h1v1h-1zM638 560h1v1h-1zM651 560h1v1h-1zM677 560h1v1h-1zM608 561h1v1h-1zM638 561h1v1h-1zM652 561h1v1h-1zM676 561h1v1h-1zM607 562h1v1h-1zM639 562h1v1h-1zM653 562h1v1h-1zM675 562h1v1h-1zM606 563h1v1h-1zM640 563h1v1h-1zM654 563h1v1h-1zM674 563h1v1h-1zM606 564h1v1h-1zM640 564h1v1h-1zM655 564h1v1h-1zM673 564h1v1h-1zM605 565h1v1h-1zM641 565h1v1h-1zM656 565h1v1h-1zM672 565h1v1h-1zM604 566h1v1h-1zM642 566h1v1h-1zM657 566h1v1h-1zM671 566h1v1h-1zM604 567h1v1h-1zM642 567h1v1h-1zM658 567h1v1h-1zM670 567h1v1h-1zM604 568h1v1h-1zM642 568h1v1h-1zM659 568h1v1h-1zM669 568h1v1h-1zM604 569h1v1h-1zM642 569h1v1h-1zM660 569h1v1h-1zM668 569h1v1h-1zM604 570h1v1h-1zM642 570h1v1h-1zM661 570h1v1h-1zM667 570h1v1h-1zM603 571h1v1h-1zM643 571h1v1h-1zM662 571h1v1h-1zM666 571h1v1h-1zM603 572h1v1h-1zM643 572h1v1h-1zM663 572h1v1h-1zM665 572h1v1h-1z"/>
</g>
<rect x="44" y="575" width="1" height="5" fill="#808080"/>
<rect x="85" y="575" width="1" height="5" fill="#808080"/>
<rect x="127" y="575" width="1" height="5" fill="#808080"/>
<rect x="168" y="575" width="1" height="5" fill="#808080"/>
<rect x="209" y="575" width="1" height="5" fill="#808080"/>
<rect x="251" y="575" width="1" height="5" fill="#808080"/>
<rect x="292" y="575" width="1" height="5" fill="#808080"/>
<rect x="333" y="575" width="1" height="5" fill="#808080"/>
<rect x="375" y="575" width="1" height="5" fill="#808080"/>
<rect x="416" y="575" width="1" height="5" fill="#808080"/>
<rect x="457" y="575" width="1" height="5" fill="#808080"/>
<rect x="499" y="575" width="1" height="5" fill="#808080"/>
<rect x="540" y="575" width="1" height="5" fill="#808080"/>
<rect x="581" y="575" width="1" height="5" fill="#808080"/>
<rect x="623" y="575" width="1" height="5" fill="#808080"/>
<rect x="664" y="575" width="1" height="5" fill="#808080"/>
<rect x="705" y="575" width="1" height="5" fill="#808080"/>
<rect x="747" y="575" width="1" height="5" fill="#808080"/>
<rect x="769" y="327" width="2" height="1" fill="#808080"/>
<rect x="769" y="332" width="2" height="1" fill="#808080"/>
<rect x="769" y="336" width="2" height="1" fill="#808080"/>
<rect x="769" y="341" width="2" height="1" fill="#808080"/>
<rect x="769" y="345" width="2" height="1" fill="#808080"/>
<rect x="769" y="350" width="2" height="1" fill="#808080"/>
<rect x="769" y="354" width="2" height="1" fill="#808080"/>
<rect x="769" y="359" width="2" height="1" fill="#808080"/>
<rect x="769" y="363" width="2" height="1" fill="#808080"/>
<rect x="769" y="368" width="2" height="1" fill="#808080"/>
<rect x="769" y="372" width="2" height="1" fill="#808080"/>
<rect x="769" y="377" width="2" height="1" fill="#808080"/>
<rect x="769" y="382" width="2" height="1" fill="#808080"/>
<rect x="769" y="386" width="2" height="1" fill="#808080"/>
<rect x="769" y="391" width="2" height="1" fill="#808080"/>
<rect x="769" y="395" width="2" height="1" fill="#808080"/>
<rect x="769" y="400" width="2" height="1" fill="#808080"/>
<rect x="769" y="404" width="2" height="1" fill="#808080"/>
<rect x="769" y="409" width="2" height="1" fill="#808080"/>
<rect x="769" y="413" width="2" height="1" fill="#808080"/>
<rect x="769" y="418" width="2" height="1" fill="#808080"/>
<rect x="769" y="422" width="2" height="1" fill="#808080"/>
<rect x="769" y="427" width="2" height="1" fill="#808080"/>
<rect x="769" y="431" width="2" height="1" fill="#808080"/>
<rect x="769" y="436" width="2" height="1" fill="#808080"/>
<rect x="769" y="441" width="2" height="1" fill="#808080"/>
<rect x="769" y="445" width="2" height="1" fill="#808080"/>
<rect x="769" y="450" width="2" height="1" fill="#808080"/>
<rect x="769" y="454" width="2" height="1" fill="#808080"/>
<rect x="769" y="459" width="2" height="1" fill="#808080"/>
<rect x="769" y="463" width="2" height="1" fill="#808080"/>
<rect x="769" y="468" width="2" height="1" fill="#808080"/>
<rect x="769" y="472" width="2" height="1" fill="#808080"/>
<rect x="769" y="477" width="2" height="1" fill="#808080"/>
<rect x="769" y="481" width="2" height="1" fill="#808080"/>
<rect x="769" y="486" width="2" height="1" fill="#808080"/>
<rect x="769" y="490" width="2" height="1" fill="#808080"/>
<rect x="769" y="495" width="2" height="1" fill="#808080"/>
<rect x="769" y="500" width="2" height="1" fill="#808080"/>
<rect x="769" y="504" width="2" height="1" fill="#808080"/>
<rect x="769" y="509" width="2" height="1" fill="#808080"/>
<rect x="769" y="513" width="2" height="1" fill="#808080"/>
<rect x="769" y="518" width="2" height="1" fill="#808080"/>
<rect x="769" y="522" width="2" height="1" fill="#808080"/>
<rect x="769" y="527" width="2" height="1" fill="#808080"/>
<rect x="769" y="531" width="2" height="1" fill="#808080"/>
<rect x="769" y="536" width="2" height="1" fill="#808080"/>
<rect x="769" y="540" width="2" height="1" fill="#808080"/>
<rect x="769" y="545" width="2" height="1" fill="#808080"/>
<rect x="769" y="550" width="2" height="1" fill="#808080"/>
<rect x="769" y="554" width="2" height="1" fill="#808080"/>
<rect x="769" y="559" width="2" height="1" fill="#808080"/>
<rect x="769" y="563" width="2" height="1" fill="#808080"/>
<rect x="769" y="568" width="2" height="1" fill="#808080"/>
<rect x="769" y="572" width="2" height="1" fill="#808080"/>
<rect x="769" y="350" width="4" height="1" fill="#808080"/>
<rect x="769" y="372" width="4" height="1" fill="#808080"/>
<rect x="769" y="395" width="4" height="1" fill="#808080"/>
<rect x="769" y="418" width="4" height="1" fill="#808080"/>
<rect x="769" y="441" width="4" height="1" fill="#808080"/>
<rect x="769" y="463" width="4" height="1" fill="#808080"/>
<rect x="769" y="486" width="4" height="1" fill="#808080"/>
<rect x="769" y="509" width="4" height="1" fill="#808080"/>
<rect x="769" y="531" width="4" height="1" fill="#808080"/>
<rect x="769" y="554" width="4" height="1" fill="#808080"/>
</g>
<text x="44" y="593" textLength="18" lengthAdjust="spacingAndGlyphs">Mar</text>
<text x="85" y="593">27.</text>
<text x="127" y="593" textLength="16.5" lengthAdjust="spacingAndGlyphs">Apr</text>
<text x="168" y="593" textLength="19.6" lengthAdjust="spacingAndGlyphs">May</text>
<text x="209" y="593">7.</text>
<text x="251" y="593">14.</text>
<text x="292" y="593">16.</text>
<text x="333" y="593">31.</text>
<text x="375" y="593" textLength="16.5" lengthAdjust="spacingAndGlyphs">Jun</text>
<text x="416" y="593">28.</text>
<text x="457" y="593">29.</text>
<text x="499" y="593" textLength="13.5" lengthAdjust="spacingAndGlyphs">Jul</text>
<text x="540" y="593">5.</text>
<text x="581" y="593" textLength="19.7" lengthAdjust="spacingAndGlyphs">Aug</text>
<text x="623" y="593">30.</text>
<text x="664" y="593" textLength="18.4" lengthAdjust="spacingAndGlyphs">Sep</text>
<text x="705" y="593" textLength="17.1" lengthAdjust="spacingAndGlyphs">Oct</text>
<text x="747" y="593">30.</text>
<text x="775" y="355">0.245</text>
<text x="775" y="377">0.24</text>
<text x="775" y="400">0.235</text>
<text x="775" y="423">0.23</text>
<text x="775" y="446">0.225</text>
<text x="775" y="468">0.22</text>
<text x="775" y="491">0.215</text>
<text x="775" y="514">0.21</text>
<text x="775" y="536">0.205</text>
<text x="775" y="559">0.2</text>
<text x="771" y="320" textLength="20" lengthAdjust="spacingAndGlyphs">EUR</text>
<text x="39.6" y="320" textLength="74.1" lengthAdjust="spacingAndGlyphs" fill="#000080" stroke="#000080">CA7497121052</text>
<text x="117.0" y="320" textLength="21.3" lengthAdjust="spacingAndGlyphs" fill="#000080" stroke="#000080">,R6T</text>
<text x="142.1" y="320" textLength="37" lengthAdjust="spacingAndGlyphs" fill="#000080" stroke="#000080">FRA(2),</text>
<text x="184.7" y="320" textLength="52.5" lengthAdjust="spacingAndGlyphs" fill="#000080" stroke="#000080">Tageschart</text>
<text x="241.0" y="320" textLength="36.6" lengthAdjust="spacingAndGlyphs" fill="#000080" stroke="#000080">[0.0091</text>
<text x="281.3" y="320" textLength="6.8" lengthAdjust="spacingAndGlyphs" fill="#000080" stroke="#000080">x</text>
<text x="290.8" y="320" textLength="9.3" lengthAdjust="spacingAndGlyphs" fill="#000080" stroke="#000080">3]</text>
<text x="303.6" y="320" textLength="4.5" lengthAdjust="spacingAndGlyphs" fill="#000080" stroke="#000080">-</text>
<text x="310.2" y="320" textLength="43.8" lengthAdjust="spacingAndGlyphs" fill="#000080" stroke="#000080">3/1/2007</text>
<text x="357.9" y="320" textLength="4.5" lengthAdjust="spacingAndGlyphs" fill="#000080" stroke="#000080">-</text>
<text x="364.7" y="320" textLength="55.6" lengthAdjust="spacingAndGlyphs" fill="#000080" stroke="#000080">10/30/2007</text>
<text x="423.8" y="320" textLength="4.5" lengthAdjust="spacingAndGlyphs" fill="#000080" stroke="#000080">-</text>
<text x="430.6" y="320" textLength="28.3" lengthAdjust="spacingAndGlyphs" fill="#000080" stroke="#000080">0.229</text>
<text x="25.6" y="335" style="font-size:12.6px">©</text>
<text x="38.5" y="334" textLength="104" lengthAdjust="spacingAndGlyphs">www.tradesignal.com</text>
</svg></body></html>
